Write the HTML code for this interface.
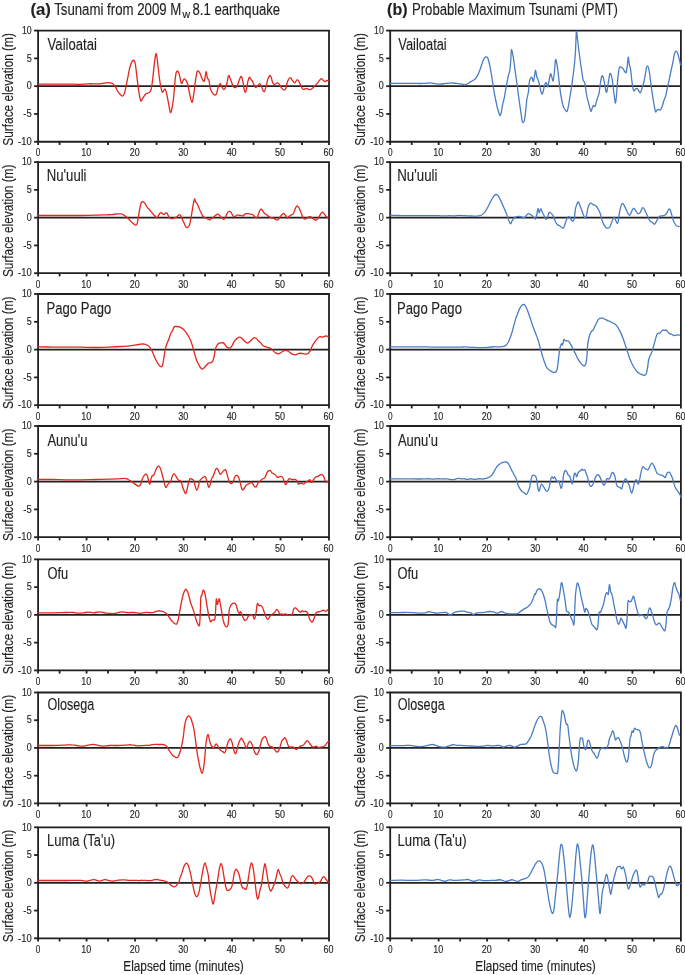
<!DOCTYPE html><html><head><meta charset="utf-8"><style>html,body{margin:0;padding:0;background:#fff;}svg{display:block;} text{filter:grayscale(1);}text{font-family:"Liberation Sans",sans-serif;fill:#231f20;stroke:#231f20;stroke-width:0.15px;}</style></head><body>
<svg width="685" height="975" viewBox="0 0 685 975">
<rect width="685" height="975" fill="#fff"/>
<text x="30.4" y="14.7" font-size="16.8" font-weight="bold" textLength="20.5" lengthAdjust="spacingAndGlyphs">(a)</text>
<text x="54.2" y="14.7" font-size="16.8" textLength="127.1" lengthAdjust="spacingAndGlyphs">Tsunami from 2009 M</text>
<text x="182.4" y="18.4" font-size="10.5" textLength="7.6" lengthAdjust="spacingAndGlyphs">w</text>
<text x="192.5" y="14.7" font-size="16.8" textLength="87.6" lengthAdjust="spacingAndGlyphs">8.1 earthquake</text>
<text x="387.1" y="14.7" font-size="16.8" font-weight="bold" textLength="20.5" lengthAdjust="spacingAndGlyphs">(b)</text>
<text x="411.9" y="14.7" font-size="16.8" textLength="206.1" lengthAdjust="spacingAndGlyphs">Probable Maximum Tsunami (PMT)</text>
<path d="M38.10 30.60 H329.00 V141.75 H38.10 Z" fill="none" stroke="#231f20" stroke-width="1.8"/>
<path d="M34.10 30.60 H38.10" stroke="#231f20" stroke-width="1.8"/>
<text x="31.70" y="33.80" font-size="10.5" text-anchor="end" textLength="9.8" lengthAdjust="spacingAndGlyphs">10</text>
<path d="M34.10 58.39 H38.10" stroke="#231f20" stroke-width="1.8"/>
<text x="31.70" y="61.59" font-size="10.5" text-anchor="end" textLength="5.0" lengthAdjust="spacingAndGlyphs">5</text>
<path d="M34.10 86.17 H38.10" stroke="#231f20" stroke-width="1.8"/>
<text x="31.70" y="89.38" font-size="10.5" text-anchor="end" textLength="5.0" lengthAdjust="spacingAndGlyphs">0</text>
<path d="M34.10 113.96 H38.10" stroke="#231f20" stroke-width="1.8"/>
<text x="31.70" y="117.16" font-size="10.5" text-anchor="end" textLength="8.4" lengthAdjust="spacingAndGlyphs">-5</text>
<path d="M34.10 141.75 H38.10" stroke="#231f20" stroke-width="1.8"/>
<text x="31.70" y="144.95" font-size="10.5" text-anchor="end" textLength="13.6" lengthAdjust="spacingAndGlyphs">-10</text>
<path d="M38.10 86.17 H329.00" stroke="#231f20" stroke-width="1.8"/>
<path d="M38.10 141.75 V144.95" stroke="#231f20" stroke-width="1.8"/>
<text x="38.10" y="156.15" font-size="10.5" text-anchor="middle" textLength="4.6" lengthAdjust="spacingAndGlyphs">0</text>
<path d="M59.60 141.75 V144.95" stroke="#231f20" stroke-width="1.8"/>
<path d="M86.58 141.75 V144.95" stroke="#231f20" stroke-width="1.8"/>
<text x="86.18" y="156.15" font-size="10.5" text-anchor="middle" textLength="10.0" lengthAdjust="spacingAndGlyphs">10</text>
<path d="M108.08 141.75 V144.95" stroke="#231f20" stroke-width="1.8"/>
<path d="M135.07 141.75 V144.95" stroke="#231f20" stroke-width="1.8"/>
<text x="134.67" y="156.15" font-size="10.5" text-anchor="middle" textLength="10.0" lengthAdjust="spacingAndGlyphs">20</text>
<path d="M156.57 141.75 V144.95" stroke="#231f20" stroke-width="1.8"/>
<path d="M183.55 141.75 V144.95" stroke="#231f20" stroke-width="1.8"/>
<text x="183.15" y="156.15" font-size="10.5" text-anchor="middle" textLength="10.0" lengthAdjust="spacingAndGlyphs">30</text>
<path d="M205.05 141.75 V144.95" stroke="#231f20" stroke-width="1.8"/>
<path d="M232.03 141.75 V144.95" stroke="#231f20" stroke-width="1.8"/>
<text x="231.63" y="156.15" font-size="10.5" text-anchor="middle" textLength="10.0" lengthAdjust="spacingAndGlyphs">40</text>
<path d="M253.53 141.75 V144.95" stroke="#231f20" stroke-width="1.8"/>
<path d="M280.52 141.75 V144.95" stroke="#231f20" stroke-width="1.8"/>
<text x="280.12" y="156.15" font-size="10.5" text-anchor="middle" textLength="10.0" lengthAdjust="spacingAndGlyphs">50</text>
<path d="M302.02 141.75 V144.95" stroke="#231f20" stroke-width="1.8"/>
<path d="M329.00 141.75 V144.95" stroke="#231f20" stroke-width="1.8"/>
<text x="328.60" y="156.15" font-size="10.5" text-anchor="middle" textLength="10.0" lengthAdjust="spacingAndGlyphs">60</text>
<text transform="translate(12.50 89.38) rotate(-90)" x="0" y="0" font-size="14.5" text-anchor="middle" textLength="112.5" lengthAdjust="spacingAndGlyphs">Surface elevation (m)</text>
<text x="47.60" y="49.50" font-size="16.8" textLength="49.25" lengthAdjust="spacingAndGlyphs">Vailoatai</text>
<path d="M38.29 84.07 C40.62 84.07 47.59 84.07 52.31 84.07 C57.03 84.07 62.32 84.02 66.61 84.07 C70.91 84.12 74.48 84.40 78.06 84.36 C81.64 84.31 84.50 83.88 88.07 83.78 C91.65 83.69 96.66 83.93 99.52 83.78 C102.38 83.64 103.81 83.12 105.24 82.92 C106.67 82.73 107.03 82.59 108.10 82.64 C109.18 82.69 110.73 82.88 111.68 83.21 C112.63 83.54 113.11 83.85 113.82 84.64 C114.54 85.43 115.14 86.55 115.97 87.93 C116.81 89.31 117.76 91.58 118.83 92.94 C119.91 94.30 121.45 96.08 122.41 96.08 C123.36 96.08 123.96 94.53 124.55 92.94 C125.15 91.34 125.39 89.36 125.99 86.50 C126.58 83.64 127.42 79.23 128.13 75.77 C128.85 72.32 129.44 68.33 130.28 65.76 C131.11 63.19 132.31 60.67 133.14 60.32 C133.96 59.98 134.62 61.15 135.22 63.69 C135.83 66.24 136.21 71.23 136.77 75.59 C137.32 79.95 137.90 85.66 138.55 89.87 C139.21 94.07 140.00 99.42 140.69 100.81 C141.39 102.20 141.88 99.33 142.72 98.19 C143.55 97.06 144.70 94.92 145.69 94.03 C146.68 93.14 147.77 93.54 148.67 92.84 C149.56 92.15 150.35 92.35 151.05 89.87 C151.74 87.39 152.23 82.73 152.83 77.97 C153.42 73.21 154.06 65.38 154.61 61.31 C155.17 57.25 155.67 53.38 156.16 53.58 C156.66 53.78 157.05 58.44 157.59 62.50 C158.12 66.57 158.78 73.61 159.37 77.97 C159.97 82.33 160.66 86.30 161.16 88.68 C161.65 91.06 161.85 92.05 162.35 92.25 C162.84 92.44 163.64 90.36 164.13 89.87 C164.63 89.37 164.87 88.48 165.32 89.27 C165.78 90.06 166.27 91.95 166.87 94.63 C167.46 97.30 168.30 102.36 168.89 105.33 C169.49 108.31 169.94 111.88 170.44 112.47 C170.93 113.07 171.33 111.48 171.86 108.90 C172.40 106.32 173.09 101.96 173.65 97.01 C174.20 92.05 174.74 83.32 175.20 79.16 C175.65 74.99 175.91 73.31 176.39 72.02 C176.86 70.73 177.52 70.83 178.05 71.43 C178.59 72.02 179.04 73.61 179.60 75.59 C180.15 77.57 180.79 82.53 181.38 83.32 C181.98 84.12 182.66 81.08 183.17 80.35 C183.67 79.62 183.96 78.92 184.43 78.92 C184.90 78.92 185.42 79.42 185.97 80.35 C186.53 81.28 187.16 82.33 187.76 84.51 C188.35 86.69 188.85 90.46 189.54 93.44 C190.24 96.41 191.23 102.16 191.92 102.36 C192.62 102.56 193.11 98.29 193.71 94.63 C194.30 90.96 194.94 84.12 195.49 80.35 C196.05 76.58 196.54 73.57 197.04 72.02 C197.53 70.47 197.93 70.77 198.47 71.07 C199.00 71.37 199.66 72.56 200.25 73.81 C200.85 75.05 201.38 77.31 202.04 78.56 C202.69 79.81 203.62 81.80 204.18 81.30 C204.73 80.80 205.03 77.18 205.37 75.59 C205.70 74.00 205.86 71.39 206.20 71.78 C206.54 72.18 206.93 76.54 207.39 77.97 C207.85 79.40 208.44 78.56 208.94 80.35 C209.43 82.13 209.73 86.50 210.36 88.68 C211.00 90.86 211.99 92.35 212.74 93.44 C213.50 94.53 214.25 95.22 214.88 95.22 C215.52 95.22 216.01 94.72 216.55 93.44 C217.09 92.15 217.50 89.11 218.10 87.49 C218.69 85.86 219.52 83.88 220.12 83.68 C220.71 83.48 221.11 85.37 221.67 86.30 C222.22 87.23 222.86 88.97 223.45 89.27 C224.05 89.57 224.64 89.17 225.23 88.08 C225.83 86.99 226.46 84.81 227.02 82.73 C227.57 80.65 228.07 76.38 228.57 75.59 C229.06 74.80 229.46 76.78 229.99 77.97 C230.53 79.16 231.18 81.24 231.78 82.73 C232.37 84.22 232.97 86.10 233.56 86.89 C234.16 87.69 234.75 87.59 235.35 87.49 C235.94 87.39 236.58 87.29 237.13 86.30 C237.69 85.31 238.18 82.93 238.68 81.54 C239.17 80.15 239.63 78.80 240.11 77.97 C240.58 77.14 241.04 75.75 241.53 76.54 C242.03 77.33 242.62 80.51 243.08 82.73 C243.54 84.95 243.87 88.28 244.27 89.87 C244.67 91.45 245.06 92.44 245.46 92.25 C245.86 92.05 246.25 90.46 246.65 88.68 C247.05 86.89 247.38 83.42 247.84 81.54 C248.30 79.65 248.89 77.77 249.39 77.37 C249.88 76.98 250.28 78.46 250.81 79.16 C251.35 79.85 252.00 80.45 252.60 81.54 C253.19 82.63 253.85 84.71 254.38 85.70 C254.92 86.69 255.24 87.49 255.81 87.49 C256.38 87.49 257.12 86.34 257.78 85.70 C258.45 85.07 259.21 83.58 259.81 83.68 C260.40 83.78 260.84 85.17 261.35 86.30 C261.87 87.43 262.36 89.63 262.90 90.46 C263.44 91.29 264.03 91.99 264.57 91.29 C265.10 90.60 265.56 88.32 266.11 86.30 C266.67 84.27 267.30 80.94 267.90 79.16 C268.49 77.37 269.13 75.89 269.68 75.59 C270.24 75.29 270.73 76.18 271.23 77.37 C271.72 78.56 272.12 81.54 272.66 82.73 C273.19 83.92 273.85 84.41 274.44 84.51 C275.04 84.61 275.63 83.58 276.23 83.32 C276.82 83.07 277.41 82.67 278.01 82.97 C278.60 83.26 279.20 84.26 279.79 85.11 C280.39 85.96 280.88 87.25 281.58 88.08 C282.27 88.91 283.26 90.01 283.96 90.10 C284.65 90.20 285.21 89.91 285.74 88.68 C286.28 87.45 286.67 84.31 287.17 82.73 C287.67 81.14 288.16 79.99 288.72 79.16 C289.27 78.33 289.91 77.53 290.50 77.73 C291.10 77.93 291.59 79.48 292.29 80.35 C292.98 81.22 293.87 83.07 294.67 82.97 C295.46 82.87 296.35 79.99 297.05 79.75 C297.74 79.52 298.23 80.65 298.83 81.54 C299.42 82.43 299.98 83.88 300.61 85.11 C301.25 86.34 302.04 88.22 302.64 88.91 C303.23 89.61 303.53 89.35 304.18 89.27 C304.84 89.19 305.87 88.44 306.56 88.44 C307.26 88.44 307.75 89.07 308.35 89.27 C308.94 89.47 309.54 89.73 310.13 89.63 C310.73 89.53 311.22 89.19 311.92 88.68 C312.61 88.16 313.50 87.33 314.30 86.54 C315.09 85.74 315.88 84.85 316.68 83.92 C317.47 82.99 318.30 81.84 319.05 80.94 C319.81 80.05 320.50 78.66 321.20 78.56 C321.89 78.46 322.58 79.85 323.22 80.35 C323.85 80.84 324.35 81.54 325.00 81.54 C325.66 81.54 326.59 80.45 327.14 80.35 C327.70 80.25 328.14 80.84 328.33 80.94" fill="none" stroke="#e3261f" stroke-width="1.3" stroke-linejoin="round" stroke-linecap="round"/>
<path d="M38.10 162.10 H329.00 V273.20 H38.10 Z" fill="none" stroke="#231f20" stroke-width="1.8"/>
<path d="M34.10 162.10 H38.10" stroke="#231f20" stroke-width="1.8"/>
<text x="31.70" y="165.30" font-size="10.5" text-anchor="end" textLength="9.8" lengthAdjust="spacingAndGlyphs">10</text>
<path d="M34.10 189.87 H38.10" stroke="#231f20" stroke-width="1.8"/>
<text x="31.70" y="193.07" font-size="10.5" text-anchor="end" textLength="5.0" lengthAdjust="spacingAndGlyphs">5</text>
<path d="M34.10 217.65 H38.10" stroke="#231f20" stroke-width="1.8"/>
<text x="31.70" y="220.85" font-size="10.5" text-anchor="end" textLength="5.0" lengthAdjust="spacingAndGlyphs">0</text>
<path d="M34.10 245.42 H38.10" stroke="#231f20" stroke-width="1.8"/>
<text x="31.70" y="248.62" font-size="10.5" text-anchor="end" textLength="8.4" lengthAdjust="spacingAndGlyphs">-5</text>
<path d="M34.10 273.20 H38.10" stroke="#231f20" stroke-width="1.8"/>
<text x="31.70" y="276.40" font-size="10.5" text-anchor="end" textLength="13.6" lengthAdjust="spacingAndGlyphs">-10</text>
<path d="M38.10 217.65 H329.00" stroke="#231f20" stroke-width="1.8"/>
<path d="M38.10 273.20 V276.40" stroke="#231f20" stroke-width="1.8"/>
<text x="38.10" y="287.60" font-size="10.5" text-anchor="middle" textLength="4.6" lengthAdjust="spacingAndGlyphs">0</text>
<path d="M59.60 273.20 V276.40" stroke="#231f20" stroke-width="1.8"/>
<path d="M86.58 273.20 V276.40" stroke="#231f20" stroke-width="1.8"/>
<text x="86.18" y="287.60" font-size="10.5" text-anchor="middle" textLength="10.0" lengthAdjust="spacingAndGlyphs">10</text>
<path d="M108.08 273.20 V276.40" stroke="#231f20" stroke-width="1.8"/>
<path d="M135.07 273.20 V276.40" stroke="#231f20" stroke-width="1.8"/>
<text x="134.67" y="287.60" font-size="10.5" text-anchor="middle" textLength="10.0" lengthAdjust="spacingAndGlyphs">20</text>
<path d="M156.57 273.20 V276.40" stroke="#231f20" stroke-width="1.8"/>
<path d="M183.55 273.20 V276.40" stroke="#231f20" stroke-width="1.8"/>
<text x="183.15" y="287.60" font-size="10.5" text-anchor="middle" textLength="10.0" lengthAdjust="spacingAndGlyphs">30</text>
<path d="M205.05 273.20 V276.40" stroke="#231f20" stroke-width="1.8"/>
<path d="M232.03 273.20 V276.40" stroke="#231f20" stroke-width="1.8"/>
<text x="231.63" y="287.60" font-size="10.5" text-anchor="middle" textLength="10.0" lengthAdjust="spacingAndGlyphs">40</text>
<path d="M253.53 273.20 V276.40" stroke="#231f20" stroke-width="1.8"/>
<path d="M280.52 273.20 V276.40" stroke="#231f20" stroke-width="1.8"/>
<text x="280.12" y="287.60" font-size="10.5" text-anchor="middle" textLength="10.0" lengthAdjust="spacingAndGlyphs">50</text>
<path d="M302.02 273.20 V276.40" stroke="#231f20" stroke-width="1.8"/>
<path d="M329.00 273.20 V276.40" stroke="#231f20" stroke-width="1.8"/>
<text x="328.60" y="287.60" font-size="10.5" text-anchor="middle" textLength="10.0" lengthAdjust="spacingAndGlyphs">60</text>
<text transform="translate(12.50 220.85) rotate(-90)" x="0" y="0" font-size="14.5" text-anchor="middle" textLength="112.5" lengthAdjust="spacingAndGlyphs">Surface elevation (m)</text>
<text x="46.80" y="181.00" font-size="16.8" textLength="39.71" lengthAdjust="spacingAndGlyphs">Nu&#39;uuli</text>
<path d="M38.29 215.50 C40.62 215.50 47.59 215.50 52.31 215.50 C57.03 215.50 61.84 215.50 66.61 215.50 C71.38 215.50 76.15 215.54 80.92 215.50 C85.69 215.45 90.93 215.33 95.23 215.21 C99.52 215.09 103.81 214.88 106.67 214.78 C109.53 214.69 110.61 214.78 112.39 214.64 C114.18 214.50 115.97 214.04 117.40 213.92 C118.83 213.80 119.91 213.73 120.98 213.92 C122.05 214.11 122.89 214.54 123.84 215.07 C124.79 215.60 125.69 216.27 126.66 217.11 C127.62 217.94 128.64 219.09 129.63 220.08 C130.62 221.07 131.61 222.20 132.60 223.06 C133.60 223.91 134.83 225.10 135.58 225.20 C136.33 225.30 136.63 225.20 137.13 223.65 C137.62 222.10 138.08 218.59 138.55 215.92 C139.03 213.24 139.48 209.87 139.98 207.59 C140.48 205.31 140.87 203.13 141.53 202.24 C142.18 201.34 143.21 201.84 143.91 202.24 C144.60 202.63 145.10 203.72 145.69 204.62 C146.29 205.51 146.88 206.80 147.48 207.59 C148.07 208.38 148.57 208.58 149.26 209.37 C149.95 210.17 150.85 211.42 151.64 212.35 C152.43 213.28 153.33 214.21 154.02 214.97 C154.71 215.72 155.31 216.35 155.80 216.87 C156.30 217.39 156.60 218.22 156.99 218.06 C157.39 217.90 157.69 216.71 158.18 215.92 C158.68 215.12 159.43 213.86 159.97 213.30 C160.50 212.75 160.90 212.45 161.40 212.59 C161.89 212.73 162.43 213.88 162.94 214.13 C163.46 214.39 163.99 214.33 164.49 214.13 C164.98 213.94 165.44 213.04 165.92 212.94 C166.39 212.84 166.85 212.84 167.34 213.54 C167.84 214.23 168.34 216.27 168.89 217.11 C169.45 217.94 169.98 218.30 170.68 218.54 C171.37 218.77 172.36 218.67 173.05 218.54 C173.75 218.40 174.24 217.94 174.84 217.70 C175.43 217.46 176.03 217.50 176.62 217.11 C177.22 216.71 177.87 215.72 178.41 215.32 C178.94 214.93 179.34 214.43 179.84 214.73 C180.33 215.03 180.89 216.12 181.38 217.11 C181.88 218.10 182.44 219.88 182.81 220.68 C183.18 221.47 183.17 220.97 183.59 221.87 C184.02 222.76 184.73 225.08 185.38 226.03 C186.03 226.98 186.83 227.78 187.52 227.58 C188.21 227.38 188.91 226.78 189.54 224.84 C190.18 222.90 190.73 219.19 191.33 215.92 C191.92 212.65 192.58 208.03 193.11 205.21 C193.65 202.39 194.14 199.62 194.54 199.02 C194.94 198.43 195.04 200.81 195.49 201.64 C195.95 202.47 196.68 202.93 197.28 204.02 C197.87 205.11 198.47 206.80 199.06 208.18 C199.66 209.57 200.25 211.06 200.85 212.35 C201.44 213.64 202.04 215.09 202.63 215.92 C203.23 216.75 203.72 216.91 204.41 217.35 C205.11 217.78 206.00 218.14 206.79 218.54 C207.59 218.93 208.38 219.73 209.17 219.73 C209.97 219.73 210.76 219.01 211.55 218.54 C212.35 218.06 213.24 217.41 213.93 216.87 C214.63 216.33 215.12 215.78 215.72 215.32 C216.31 214.87 216.91 214.19 217.50 214.13 C218.10 214.07 218.69 214.47 219.29 214.97 C219.88 215.46 220.38 216.39 221.07 217.11 C221.76 217.82 222.76 219.15 223.45 219.25 C224.14 219.35 224.64 218.65 225.23 217.70 C225.83 216.75 226.42 214.57 227.02 213.54 C227.61 212.51 228.21 211.81 228.80 211.52 C229.40 211.22 229.99 211.22 230.59 211.75 C231.18 212.29 231.78 213.88 232.37 214.73 C232.97 215.58 233.56 216.67 234.16 216.87 C234.75 217.07 235.35 216.24 235.94 215.92 C236.54 215.60 237.13 215.07 237.73 214.97 C238.32 214.87 238.92 215.22 239.51 215.32 C240.11 215.42 240.70 215.46 241.30 215.56 C241.89 215.66 242.49 216.16 243.08 215.92 C243.68 215.68 244.27 214.53 244.86 214.13 C245.46 213.74 245.96 213.60 246.65 213.54 C247.34 213.48 248.24 213.66 249.03 213.78 C249.82 213.90 250.71 214.05 251.41 214.25 C252.10 214.45 252.60 214.53 253.19 214.97 C253.79 215.40 254.35 216.41 254.98 216.87 C255.60 217.33 256.38 218.16 256.95 217.70 C257.52 217.25 257.90 215.32 258.38 214.13 C258.86 212.94 259.31 211.42 259.81 210.56 C260.30 209.71 260.84 208.92 261.35 209.02 C261.87 209.12 262.40 210.45 262.90 211.16 C263.40 211.87 263.79 212.75 264.33 213.30 C264.86 213.86 265.52 214.05 266.11 214.49 C266.71 214.93 267.20 215.44 267.90 215.92 C268.59 216.39 269.38 216.99 270.28 217.35 C271.17 217.70 272.46 217.76 273.25 218.06 C274.04 218.36 274.38 218.79 275.04 219.13 C275.69 219.47 276.54 220.12 277.18 220.08 C277.81 220.04 278.31 219.49 278.84 218.89 C279.38 218.30 279.83 217.25 280.39 216.51 C280.94 215.78 281.58 214.99 282.17 214.49 C282.77 213.99 283.36 213.34 283.96 213.54 C284.55 213.74 285.21 214.93 285.74 215.68 C286.28 216.43 286.67 217.86 287.17 218.06 C287.67 218.26 288.16 217.33 288.72 216.87 C289.27 216.41 289.81 215.78 290.50 215.32 C291.20 214.87 292.25 214.83 292.88 214.13 C293.52 213.44 293.81 212.29 294.31 211.16 C294.80 210.03 295.40 208.24 295.86 207.35 C296.31 206.46 296.55 205.77 297.05 205.81 C297.54 205.84 298.29 206.80 298.83 207.59 C299.36 208.38 299.76 209.37 300.26 210.56 C300.75 211.75 301.29 213.48 301.80 214.73 C302.32 215.98 302.82 217.33 303.35 218.06 C303.89 218.79 304.42 219.13 305.02 219.13 C305.61 219.13 306.27 218.44 306.92 218.06 C307.57 217.68 308.31 217.07 308.94 216.87 C309.58 216.67 310.13 216.67 310.73 216.87 C311.32 217.07 311.92 217.62 312.51 218.06 C313.11 218.50 313.70 219.15 314.30 219.49 C314.89 219.82 315.49 220.24 316.08 220.08 C316.68 219.92 317.27 219.27 317.86 218.54 C318.46 217.80 319.05 216.61 319.65 215.68 C320.24 214.75 320.90 213.54 321.43 212.94 C321.97 212.35 322.37 211.91 322.86 212.11 C323.36 212.31 323.85 213.40 324.41 214.13 C324.96 214.87 325.54 215.92 326.19 216.51 C326.85 217.11 327.98 217.50 328.33 217.70" fill="none" stroke="#e3261f" stroke-width="1.3" stroke-linejoin="round" stroke-linecap="round"/>
<path d="M38.10 294.00 H329.00 V405.20 H38.10 Z" fill="none" stroke="#231f20" stroke-width="1.8"/>
<path d="M34.10 294.00 H38.10" stroke="#231f20" stroke-width="1.8"/>
<text x="31.70" y="297.20" font-size="10.5" text-anchor="end" textLength="9.8" lengthAdjust="spacingAndGlyphs">10</text>
<path d="M34.10 321.80 H38.10" stroke="#231f20" stroke-width="1.8"/>
<text x="31.70" y="325.00" font-size="10.5" text-anchor="end" textLength="5.0" lengthAdjust="spacingAndGlyphs">5</text>
<path d="M34.10 349.60 H38.10" stroke="#231f20" stroke-width="1.8"/>
<text x="31.70" y="352.80" font-size="10.5" text-anchor="end" textLength="5.0" lengthAdjust="spacingAndGlyphs">0</text>
<path d="M34.10 377.40 H38.10" stroke="#231f20" stroke-width="1.8"/>
<text x="31.70" y="380.60" font-size="10.5" text-anchor="end" textLength="8.4" lengthAdjust="spacingAndGlyphs">-5</text>
<path d="M34.10 405.20 H38.10" stroke="#231f20" stroke-width="1.8"/>
<text x="31.70" y="408.40" font-size="10.5" text-anchor="end" textLength="13.6" lengthAdjust="spacingAndGlyphs">-10</text>
<path d="M38.10 349.60 H329.00" stroke="#231f20" stroke-width="1.8"/>
<path d="M38.10 405.20 V408.40" stroke="#231f20" stroke-width="1.8"/>
<text x="38.10" y="419.60" font-size="10.5" text-anchor="middle" textLength="4.6" lengthAdjust="spacingAndGlyphs">0</text>
<path d="M59.60 405.20 V408.40" stroke="#231f20" stroke-width="1.8"/>
<path d="M86.58 405.20 V408.40" stroke="#231f20" stroke-width="1.8"/>
<text x="86.18" y="419.60" font-size="10.5" text-anchor="middle" textLength="10.0" lengthAdjust="spacingAndGlyphs">10</text>
<path d="M108.08 405.20 V408.40" stroke="#231f20" stroke-width="1.8"/>
<path d="M135.07 405.20 V408.40" stroke="#231f20" stroke-width="1.8"/>
<text x="134.67" y="419.60" font-size="10.5" text-anchor="middle" textLength="10.0" lengthAdjust="spacingAndGlyphs">20</text>
<path d="M156.57 405.20 V408.40" stroke="#231f20" stroke-width="1.8"/>
<path d="M183.55 405.20 V408.40" stroke="#231f20" stroke-width="1.8"/>
<text x="183.15" y="419.60" font-size="10.5" text-anchor="middle" textLength="10.0" lengthAdjust="spacingAndGlyphs">30</text>
<path d="M205.05 405.20 V408.40" stroke="#231f20" stroke-width="1.8"/>
<path d="M232.03 405.20 V408.40" stroke="#231f20" stroke-width="1.8"/>
<text x="231.63" y="419.60" font-size="10.5" text-anchor="middle" textLength="10.0" lengthAdjust="spacingAndGlyphs">40</text>
<path d="M253.53 405.20 V408.40" stroke="#231f20" stroke-width="1.8"/>
<path d="M280.52 405.20 V408.40" stroke="#231f20" stroke-width="1.8"/>
<text x="280.12" y="419.60" font-size="10.5" text-anchor="middle" textLength="10.0" lengthAdjust="spacingAndGlyphs">50</text>
<path d="M302.02 405.20 V408.40" stroke="#231f20" stroke-width="1.8"/>
<path d="M329.00 405.20 V408.40" stroke="#231f20" stroke-width="1.8"/>
<text x="328.60" y="419.60" font-size="10.5" text-anchor="middle" textLength="10.0" lengthAdjust="spacingAndGlyphs">60</text>
<text transform="translate(12.50 352.80) rotate(-90)" x="0" y="0" font-size="14.5" text-anchor="middle" textLength="112.5" lengthAdjust="spacingAndGlyphs">Surface elevation (m)</text>
<text x="46.60" y="313.50" font-size="16.8" textLength="64.63" lengthAdjust="spacingAndGlyphs">Pago Pago</text>
<path d="M38.29 346.78 C40.62 346.83 47.59 347.00 52.31 347.07 C57.03 347.14 61.84 347.19 66.61 347.21 C71.38 347.23 76.15 347.16 80.92 347.21 C85.69 347.26 90.46 347.52 95.23 347.50 C100.00 347.47 105.24 347.23 109.53 347.07 C113.82 346.90 117.64 346.71 120.98 346.50 C124.32 346.28 127.03 346.04 129.56 345.78 C132.09 345.52 134.38 345.22 136.17 344.94 C137.97 344.67 138.95 344.25 140.34 344.11 C141.73 343.97 143.31 343.91 144.50 344.11 C145.69 344.31 146.58 344.77 147.48 345.30 C148.37 345.84 149.16 346.49 149.86 347.32 C150.55 348.16 150.95 348.91 151.64 350.30 C152.33 351.69 153.23 353.87 154.02 355.65 C154.81 357.44 155.61 359.48 156.40 361.01 C157.19 362.53 158.02 363.86 158.78 364.81 C159.53 365.76 160.32 366.56 160.92 366.72 C161.51 366.87 161.87 367.11 162.35 365.76 C162.82 364.42 163.28 361.40 163.77 358.63 C164.27 355.85 164.77 351.69 165.32 349.11 C165.88 346.53 166.51 344.84 167.11 343.16 C167.70 341.47 168.30 340.58 168.89 338.99 C169.49 337.41 170.08 335.03 170.68 333.64 C171.27 332.25 171.86 331.82 172.46 330.67 C173.05 329.52 173.65 327.43 174.24 326.74 C174.84 326.05 175.33 326.50 176.03 326.50 C176.72 326.50 177.52 326.50 178.41 326.74 C179.30 326.98 180.52 327.47 181.38 327.93 C182.25 328.39 182.83 328.72 183.59 329.48 C184.36 330.23 185.18 331.36 185.97 332.45 C186.77 333.54 187.56 334.63 188.35 336.02 C189.15 337.41 190.04 339.09 190.73 340.78 C191.43 342.46 191.92 344.15 192.52 346.13 C193.11 348.12 193.61 350.30 194.30 352.68 C195.00 355.06 195.89 358.33 196.68 360.41 C197.47 362.49 198.37 363.88 199.06 365.17 C199.76 366.46 200.25 367.49 200.85 368.14 C201.44 368.80 202.04 369.19 202.63 369.10 C203.23 369.00 203.72 368.26 204.41 367.55 C205.11 366.83 206.04 365.61 206.79 364.81 C207.55 364.02 208.24 363.13 208.94 362.79 C209.63 362.45 210.32 363.09 210.96 362.79 C211.59 362.49 212.21 362.10 212.74 361.01 C213.28 359.91 213.73 358.23 214.17 356.25 C214.61 354.26 214.90 350.89 215.36 349.11 C215.82 347.32 216.35 346.49 216.91 345.54 C217.46 344.59 218.00 343.83 218.69 343.40 C219.39 342.96 220.28 343.00 221.07 342.92 C221.86 342.84 222.76 342.58 223.45 342.92 C224.14 343.26 224.64 344.21 225.23 344.94 C225.83 345.68 226.42 346.83 227.02 347.32 C227.61 347.82 228.21 347.86 228.80 347.92 C229.40 347.98 230.05 348.04 230.59 347.68 C231.12 347.32 231.52 346.63 232.02 345.78 C232.51 344.92 233.01 343.50 233.56 342.56 C234.12 341.63 234.75 340.88 235.35 340.18 C235.94 339.49 236.44 338.90 237.13 338.40 C237.83 337.90 238.72 337.21 239.51 337.21 C240.30 337.21 241.20 337.90 241.89 338.40 C242.58 338.90 243.08 339.59 243.68 340.18 C244.27 340.78 244.83 341.47 245.46 341.97 C246.09 342.46 246.79 343.20 247.48 343.16 C248.18 343.12 248.91 342.33 249.62 341.73 C250.34 341.14 251.07 340.24 251.77 339.59 C252.46 338.94 253.15 338.04 253.79 337.81 C254.42 337.57 255.10 338.02 255.57 338.16 C256.04 338.30 256.13 338.20 256.59 338.64 C257.06 339.07 257.69 340.07 258.38 340.78 C259.07 341.49 259.97 342.09 260.76 342.92 C261.55 343.75 262.35 345.14 263.14 345.78 C263.93 346.41 264.72 346.45 265.52 346.73 C266.31 347.01 267.00 347.14 267.90 347.44 C268.79 347.74 269.98 347.94 270.87 348.51 C271.76 349.09 272.46 350.16 273.25 350.89 C274.04 351.63 274.74 352.42 275.63 352.91 C276.52 353.41 277.71 353.91 278.60 353.87 C279.50 353.83 280.19 353.17 280.98 352.68 C281.78 352.18 282.53 351.29 283.36 350.89 C284.20 350.50 285.19 350.24 285.98 350.30 C286.77 350.36 287.37 350.81 288.12 351.25 C288.88 351.69 289.71 352.38 290.50 352.91 C291.29 353.45 292.09 354.14 292.88 354.46 C293.67 354.78 294.47 354.92 295.26 354.82 C296.05 354.72 296.85 354.12 297.64 353.87 C298.43 353.61 299.13 353.31 300.02 353.27 C300.91 353.23 302.00 353.49 302.99 353.63 C303.98 353.77 305.08 354.16 305.97 354.10 C306.86 354.05 307.65 353.81 308.35 353.27 C309.04 352.74 309.58 351.88 310.13 350.89 C310.69 349.90 311.18 348.41 311.68 347.32 C312.17 346.23 312.57 345.28 313.11 344.35 C313.64 343.42 314.30 342.56 314.89 341.73 C315.49 340.90 316.08 340.07 316.68 339.35 C317.27 338.64 317.86 337.90 318.46 337.45 C319.05 336.99 319.65 336.66 320.24 336.62 C320.84 336.58 321.43 337.21 322.03 337.21 C322.62 337.21 323.22 336.81 323.81 336.62 C324.41 336.42 325.00 336.08 325.60 336.02 C326.19 335.96 326.93 336.16 327.38 336.26 C327.84 336.36 328.18 336.56 328.33 336.62" fill="none" stroke="#e3261f" stroke-width="1.3" stroke-linejoin="round" stroke-linecap="round"/>
<path d="M38.10 426.00 H329.00 V537.20 H38.10 Z" fill="none" stroke="#231f20" stroke-width="1.8"/>
<path d="M34.10 426.00 H38.10" stroke="#231f20" stroke-width="1.8"/>
<text x="31.70" y="429.20" font-size="10.5" text-anchor="end" textLength="9.8" lengthAdjust="spacingAndGlyphs">10</text>
<path d="M34.10 453.80 H38.10" stroke="#231f20" stroke-width="1.8"/>
<text x="31.70" y="457.00" font-size="10.5" text-anchor="end" textLength="5.0" lengthAdjust="spacingAndGlyphs">5</text>
<path d="M34.10 481.60 H38.10" stroke="#231f20" stroke-width="1.8"/>
<text x="31.70" y="484.80" font-size="10.5" text-anchor="end" textLength="5.0" lengthAdjust="spacingAndGlyphs">0</text>
<path d="M34.10 509.40 H38.10" stroke="#231f20" stroke-width="1.8"/>
<text x="31.70" y="512.60" font-size="10.5" text-anchor="end" textLength="8.4" lengthAdjust="spacingAndGlyphs">-5</text>
<path d="M34.10 537.20 H38.10" stroke="#231f20" stroke-width="1.8"/>
<text x="31.70" y="540.40" font-size="10.5" text-anchor="end" textLength="13.6" lengthAdjust="spacingAndGlyphs">-10</text>
<path d="M38.10 481.60 H329.00" stroke="#231f20" stroke-width="1.8"/>
<path d="M38.10 537.20 V540.40" stroke="#231f20" stroke-width="1.8"/>
<text x="38.10" y="551.60" font-size="10.5" text-anchor="middle" textLength="4.6" lengthAdjust="spacingAndGlyphs">0</text>
<path d="M59.60 537.20 V540.40" stroke="#231f20" stroke-width="1.8"/>
<path d="M86.58 537.20 V540.40" stroke="#231f20" stroke-width="1.8"/>
<text x="86.18" y="551.60" font-size="10.5" text-anchor="middle" textLength="10.0" lengthAdjust="spacingAndGlyphs">10</text>
<path d="M108.08 537.20 V540.40" stroke="#231f20" stroke-width="1.8"/>
<path d="M135.07 537.20 V540.40" stroke="#231f20" stroke-width="1.8"/>
<text x="134.67" y="551.60" font-size="10.5" text-anchor="middle" textLength="10.0" lengthAdjust="spacingAndGlyphs">20</text>
<path d="M156.57 537.20 V540.40" stroke="#231f20" stroke-width="1.8"/>
<path d="M183.55 537.20 V540.40" stroke="#231f20" stroke-width="1.8"/>
<text x="183.15" y="551.60" font-size="10.5" text-anchor="middle" textLength="10.0" lengthAdjust="spacingAndGlyphs">30</text>
<path d="M205.05 537.20 V540.40" stroke="#231f20" stroke-width="1.8"/>
<path d="M232.03 537.20 V540.40" stroke="#231f20" stroke-width="1.8"/>
<text x="231.63" y="551.60" font-size="10.5" text-anchor="middle" textLength="10.0" lengthAdjust="spacingAndGlyphs">40</text>
<path d="M253.53 537.20 V540.40" stroke="#231f20" stroke-width="1.8"/>
<path d="M280.52 537.20 V540.40" stroke="#231f20" stroke-width="1.8"/>
<text x="280.12" y="551.60" font-size="10.5" text-anchor="middle" textLength="10.0" lengthAdjust="spacingAndGlyphs">50</text>
<path d="M302.02 537.20 V540.40" stroke="#231f20" stroke-width="1.8"/>
<path d="M329.00 537.20 V540.40" stroke="#231f20" stroke-width="1.8"/>
<text x="328.60" y="551.60" font-size="10.5" text-anchor="middle" textLength="10.0" lengthAdjust="spacingAndGlyphs">60</text>
<text transform="translate(12.50 484.80) rotate(-90)" x="0" y="0" font-size="14.5" text-anchor="middle" textLength="112.5" lengthAdjust="spacingAndGlyphs">Surface elevation (m)</text>
<text x="47.40" y="445.50" font-size="16.8" textLength="40.19" lengthAdjust="spacingAndGlyphs">Aunu&#39;u</text>
<path d="M38.29 479.50 C40.62 479.50 47.59 479.45 52.31 479.50 C57.03 479.54 61.84 479.74 66.61 479.78 C71.38 479.83 76.15 479.83 80.92 479.78 C85.69 479.74 90.46 479.59 95.23 479.50 C100.00 479.40 105.72 479.33 109.53 479.21 C113.35 479.09 115.61 478.92 118.12 478.78 C120.62 478.64 123.00 478.30 124.55 478.35 C126.10 478.40 126.87 478.91 127.42 479.07 C127.96 479.23 127.28 478.98 127.85 479.32 C128.41 479.66 129.83 480.45 130.82 481.11 C131.81 481.76 132.90 482.61 133.79 483.25 C134.69 483.88 135.38 484.44 136.17 484.91 C136.97 485.39 137.80 486.24 138.55 486.10 C139.31 485.97 140.06 485.31 140.69 484.08 C141.33 482.85 141.77 480.18 142.36 478.73 C142.95 477.28 143.67 476.19 144.26 475.40 C144.86 474.60 145.39 473.81 145.93 473.97 C146.46 474.13 147.02 475.16 147.48 476.35 C147.93 477.54 148.27 479.82 148.67 481.11 C149.06 482.40 149.46 484.48 149.86 484.08 C150.25 483.69 150.65 480.12 151.05 478.73 C151.44 477.34 151.78 476.35 152.23 475.75 C152.69 475.16 153.29 475.85 153.78 475.16 C154.28 474.46 154.67 472.88 155.21 471.59 C155.74 470.30 156.44 468.38 156.99 467.43 C157.55 466.47 158.00 465.78 158.54 465.88 C159.08 465.98 159.67 466.87 160.21 468.02 C160.74 469.17 161.24 470.99 161.75 472.78 C162.27 474.56 162.80 476.75 163.30 478.73 C163.79 480.71 164.29 483.19 164.73 484.68 C165.16 486.16 165.48 487.55 165.92 487.65 C166.35 487.75 166.85 486.06 167.34 485.27 C167.84 484.48 168.34 483.49 168.89 482.89 C169.45 482.30 170.18 482.59 170.68 481.70 C171.17 480.81 171.47 478.73 171.86 477.54 C172.26 476.35 172.62 475.16 173.05 474.56 C173.49 473.97 173.99 473.67 174.48 473.97 C174.98 474.27 175.47 475.46 176.03 476.35 C176.58 477.24 177.22 478.63 177.81 479.32 C178.41 480.02 179.10 480.22 179.60 480.51 C180.09 480.81 180.39 480.41 180.79 481.11 C181.18 481.80 181.58 483.39 181.98 484.68 C182.37 485.97 182.90 488.05 183.17 488.84 C183.44 489.63 183.23 488.64 183.59 489.44 C183.96 490.23 184.84 493.40 185.38 493.60 C185.91 493.80 186.31 492.31 186.81 490.63 C187.30 488.94 187.84 485.47 188.35 483.49 C188.87 481.50 189.31 479.42 189.90 478.73 C190.50 478.03 191.29 479.03 191.92 479.32 C192.56 479.62 193.17 479.42 193.71 480.51 C194.24 481.60 194.64 484.28 195.14 485.87 C195.63 487.45 196.17 489.83 196.68 490.03 C197.20 490.23 197.73 488.54 198.23 487.06 C198.72 485.57 199.12 482.50 199.66 481.11 C200.19 479.72 200.85 479.36 201.44 478.73 C202.04 478.09 202.63 477.66 203.23 477.30 C203.82 476.94 204.41 476.05 205.01 476.59 C205.60 477.12 206.20 478.77 206.79 480.51 C207.39 482.26 208.02 486.36 208.58 487.06 C209.13 487.75 209.63 486.06 210.13 484.68 C210.62 483.29 211.02 480.22 211.55 478.73 C212.09 477.24 212.74 477.10 213.34 475.75 C213.93 474.41 214.59 471.89 215.12 470.64 C215.66 469.39 216.05 468.40 216.55 468.26 C217.05 468.12 217.54 468.85 218.10 469.81 C218.65 470.76 219.35 473.37 219.88 473.97 C220.42 474.56 220.81 473.81 221.31 473.37 C221.80 472.94 222.30 471.95 222.86 471.35 C223.41 470.76 224.10 469.92 224.64 469.81 C225.18 469.69 225.57 469.55 226.07 470.64 C226.56 471.73 227.06 474.41 227.61 476.35 C228.17 478.29 228.80 481.11 229.40 482.30 C229.99 483.49 230.59 483.49 231.18 483.49 C231.78 483.49 232.41 483.29 232.97 482.30 C233.52 481.31 233.96 478.69 234.51 477.54 C235.07 476.39 235.72 475.60 236.30 475.40 C236.87 475.20 237.43 475.60 237.96 476.35 C238.50 477.10 239.02 478.33 239.51 479.92 C240.01 481.50 240.44 484.18 240.94 485.87 C241.43 487.55 241.93 489.63 242.49 490.03 C243.04 490.43 243.68 489.04 244.27 488.25 C244.86 487.45 245.46 485.97 246.05 485.27 C246.65 484.58 247.24 484.38 247.84 484.08 C248.43 483.78 249.13 483.78 249.62 483.49 C250.12 483.19 250.32 482.30 250.81 482.30 C251.31 482.30 252.00 482.79 252.60 483.49 C253.19 484.18 253.85 485.87 254.38 486.46 C254.92 487.06 255.44 487.06 255.81 487.06 C256.18 487.06 256.21 487.16 256.59 486.46 C256.98 485.77 257.55 483.82 258.14 482.89 C258.74 481.96 259.43 481.52 260.16 480.87 C260.90 480.22 261.75 479.52 262.54 478.97 C263.34 478.41 264.27 478.37 264.92 477.54 C265.58 476.71 265.97 475.00 266.47 473.97 C266.97 472.94 267.26 471.91 267.90 471.35 C268.53 470.80 269.58 470.36 270.28 470.64 C270.97 470.92 271.47 472.50 272.06 473.02 C272.66 473.53 273.25 473.37 273.85 473.73 C274.44 474.09 275.04 474.56 275.63 475.16 C276.23 475.75 276.82 477.00 277.41 477.30 C278.01 477.60 278.60 477.10 279.20 476.94 C279.79 476.78 280.39 476.25 280.98 476.35 C281.58 476.45 282.21 476.65 282.77 477.54 C283.32 478.43 283.82 480.51 284.32 481.70 C284.81 482.89 285.27 484.58 285.74 484.68 C286.22 484.78 286.67 483.25 287.17 482.30 C287.67 481.35 288.16 479.52 288.72 478.97 C289.27 478.41 289.81 478.85 290.50 478.97 C291.20 479.09 292.09 479.62 292.88 479.68 C293.67 479.74 294.57 479.12 295.26 479.32 C295.95 479.52 296.55 480.08 297.05 480.87 C297.54 481.66 297.74 483.69 298.23 484.08 C298.73 484.48 299.42 483.35 300.02 483.25 C300.61 483.15 301.21 483.35 301.80 483.49 C302.40 483.63 303.05 484.24 303.59 484.08 C304.12 483.92 304.46 482.93 305.02 482.54 C305.57 482.14 306.36 481.98 306.92 481.70 C307.47 481.42 307.87 481.21 308.35 480.87 C308.82 480.53 309.34 479.54 309.77 479.68 C310.21 479.82 310.57 481.27 310.96 481.70 C311.36 482.14 311.70 482.69 312.15 482.30 C312.61 481.90 313.15 480.16 313.70 479.32 C314.26 478.49 314.79 477.80 315.49 477.30 C316.18 476.80 317.07 476.75 317.86 476.35 C318.66 475.95 319.55 475.22 320.24 474.92 C320.94 474.62 321.47 474.33 322.03 474.56 C322.58 474.80 323.08 475.46 323.58 476.35 C324.07 477.24 324.53 478.93 325.00 479.92 C325.48 480.91 325.94 482.10 326.43 482.30 C326.93 482.50 327.72 481.31 327.98 481.11" fill="none" stroke="#e3261f" stroke-width="1.3" stroke-linejoin="round" stroke-linecap="round"/>
<path d="M38.10 559.40 H329.00 V670.40 H38.10 Z" fill="none" stroke="#231f20" stroke-width="1.8"/>
<path d="M34.10 559.40 H38.10" stroke="#231f20" stroke-width="1.8"/>
<text x="31.70" y="562.60" font-size="10.5" text-anchor="end" textLength="9.8" lengthAdjust="spacingAndGlyphs">10</text>
<path d="M34.10 587.15 H38.10" stroke="#231f20" stroke-width="1.8"/>
<text x="31.70" y="590.35" font-size="10.5" text-anchor="end" textLength="5.0" lengthAdjust="spacingAndGlyphs">5</text>
<path d="M34.10 614.90 H38.10" stroke="#231f20" stroke-width="1.8"/>
<text x="31.70" y="618.10" font-size="10.5" text-anchor="end" textLength="5.0" lengthAdjust="spacingAndGlyphs">0</text>
<path d="M34.10 642.65 H38.10" stroke="#231f20" stroke-width="1.8"/>
<text x="31.70" y="645.85" font-size="10.5" text-anchor="end" textLength="8.4" lengthAdjust="spacingAndGlyphs">-5</text>
<path d="M34.10 670.40 H38.10" stroke="#231f20" stroke-width="1.8"/>
<text x="31.70" y="673.60" font-size="10.5" text-anchor="end" textLength="13.6" lengthAdjust="spacingAndGlyphs">-10</text>
<path d="M38.10 614.90 H329.00" stroke="#231f20" stroke-width="1.8"/>
<path d="M38.10 670.40 V673.60" stroke="#231f20" stroke-width="1.8"/>
<text x="38.10" y="684.80" font-size="10.5" text-anchor="middle" textLength="4.6" lengthAdjust="spacingAndGlyphs">0</text>
<path d="M59.60 670.40 V673.60" stroke="#231f20" stroke-width="1.8"/>
<path d="M86.58 670.40 V673.60" stroke="#231f20" stroke-width="1.8"/>
<text x="86.18" y="684.80" font-size="10.5" text-anchor="middle" textLength="10.0" lengthAdjust="spacingAndGlyphs">10</text>
<path d="M108.08 670.40 V673.60" stroke="#231f20" stroke-width="1.8"/>
<path d="M135.07 670.40 V673.60" stroke="#231f20" stroke-width="1.8"/>
<text x="134.67" y="684.80" font-size="10.5" text-anchor="middle" textLength="10.0" lengthAdjust="spacingAndGlyphs">20</text>
<path d="M156.57 670.40 V673.60" stroke="#231f20" stroke-width="1.8"/>
<path d="M183.55 670.40 V673.60" stroke="#231f20" stroke-width="1.8"/>
<text x="183.15" y="684.80" font-size="10.5" text-anchor="middle" textLength="10.0" lengthAdjust="spacingAndGlyphs">30</text>
<path d="M205.05 670.40 V673.60" stroke="#231f20" stroke-width="1.8"/>
<path d="M232.03 670.40 V673.60" stroke="#231f20" stroke-width="1.8"/>
<text x="231.63" y="684.80" font-size="10.5" text-anchor="middle" textLength="10.0" lengthAdjust="spacingAndGlyphs">40</text>
<path d="M253.53 670.40 V673.60" stroke="#231f20" stroke-width="1.8"/>
<path d="M280.52 670.40 V673.60" stroke="#231f20" stroke-width="1.8"/>
<text x="280.12" y="684.80" font-size="10.5" text-anchor="middle" textLength="10.0" lengthAdjust="spacingAndGlyphs">50</text>
<path d="M302.02 670.40 V673.60" stroke="#231f20" stroke-width="1.8"/>
<path d="M329.00 670.40 V673.60" stroke="#231f20" stroke-width="1.8"/>
<text x="328.60" y="684.80" font-size="10.5" text-anchor="middle" textLength="10.0" lengthAdjust="spacingAndGlyphs">60</text>
<text transform="translate(12.50 618.10) rotate(-90)" x="0" y="0" font-size="14.5" text-anchor="middle" textLength="112.5" lengthAdjust="spacingAndGlyphs">Surface elevation (m)</text>
<text x="47.40" y="578.50" font-size="16.8" textLength="20.80" lengthAdjust="spacingAndGlyphs">Ofu</text>
<path d="M38.29 612.78 C40.62 612.78 47.59 612.83 52.31 612.78 C57.03 612.74 63.04 612.54 66.61 612.50 C70.19 612.45 71.86 612.38 73.77 612.50 C75.67 612.62 76.39 613.16 78.06 613.21 C79.73 613.26 82.11 612.95 83.78 612.78 C85.45 612.62 86.40 612.21 88.07 612.21 C89.74 612.21 91.89 612.85 93.80 612.78 C95.70 612.71 97.85 611.83 99.52 611.78 C101.19 611.73 102.62 612.26 103.81 612.50 C105.00 612.74 105.00 613.05 106.67 613.21 C108.34 613.38 112.04 613.57 113.82 613.50 C115.61 613.43 116.09 613.07 117.40 612.78 C118.71 612.50 120.14 611.83 121.69 611.78 C123.24 611.73 124.55 612.38 126.70 612.50 C128.85 612.62 132.79 612.43 134.57 612.50 C136.35 612.57 136.50 612.75 137.36 612.92 C138.23 613.09 138.95 613.51 139.74 613.51 C140.54 613.51 141.13 613.12 142.12 612.92 C143.11 612.72 144.50 612.38 145.69 612.32 C146.88 612.26 148.17 612.50 149.26 612.56 C150.35 612.62 151.24 612.82 152.23 612.68 C153.23 612.54 154.22 612.05 155.21 611.73 C156.20 611.41 157.19 610.88 158.18 610.78 C159.17 610.68 160.17 610.94 161.16 611.13 C162.15 611.33 163.24 611.57 164.13 611.97 C165.02 612.36 165.82 612.86 166.51 613.51 C167.21 614.17 167.70 615.04 168.30 615.89 C168.89 616.74 169.45 617.74 170.08 618.63 C170.71 619.52 171.41 620.45 172.10 621.25 C172.80 622.04 173.53 622.89 174.24 623.39 C174.96 623.88 175.79 624.58 176.39 624.22 C176.98 623.86 177.38 622.73 177.81 621.25 C178.25 619.76 178.40 618.47 179.00 615.30 C179.60 612.13 180.63 605.88 181.40 602.20 C182.17 598.52 182.90 595.34 183.60 593.20 C184.30 591.06 185.02 589.74 185.62 589.36 C186.21 588.98 186.65 589.96 187.16 590.91 C187.68 591.86 188.21 593.39 188.71 595.07 C189.21 596.76 189.60 599.14 190.14 601.02 C190.67 602.90 191.33 604.69 191.92 606.37 C192.52 608.06 193.11 609.25 193.71 611.13 C194.30 613.02 194.90 615.69 195.49 617.68 C196.09 619.66 196.62 621.74 197.28 623.03 C197.93 624.32 198.92 627.10 199.42 625.41 C199.91 623.72 200.01 617.58 200.25 612.92 C200.49 608.26 200.59 600.33 200.85 597.45 C201.10 594.58 201.44 596.86 201.80 595.67 C202.15 594.48 202.55 591.01 202.99 590.31 C203.42 589.62 203.94 590.11 204.41 591.50 C204.89 592.89 205.35 595.86 205.84 598.64 C206.34 601.42 206.87 605.18 207.39 608.16 C207.90 611.13 208.40 614.21 208.94 616.49 C209.47 618.77 210.07 621.25 210.60 621.84 C211.14 622.44 211.59 620.35 212.15 620.06 C212.70 619.76 213.44 620.45 213.93 620.06 C214.43 619.66 214.73 621.15 215.12 617.68 C215.52 614.21 215.95 601.46 216.31 599.24 C216.67 597.02 216.91 604.05 217.26 604.35 C217.62 604.65 218.12 601.93 218.45 601.02 C218.79 600.11 218.95 598.28 219.29 598.88 C219.62 599.47 220.08 602.45 220.48 604.59 C220.87 606.73 221.17 608.95 221.67 611.73 C222.16 614.50 222.86 618.87 223.45 621.25 C224.05 623.63 224.64 625.11 225.23 626.01 C225.83 626.90 226.52 627.00 227.02 626.60 C227.52 626.20 227.85 626.30 228.21 623.63 C228.57 620.95 228.76 613.51 229.16 610.54 C229.56 607.56 230.05 606.93 230.59 605.78 C231.12 604.63 231.78 604.13 232.37 603.64 C232.97 603.14 233.56 602.65 234.16 602.81 C234.75 602.96 235.35 603.30 235.94 604.59 C236.54 605.88 237.19 609.05 237.73 610.54 C238.26 612.03 238.66 613.31 239.15 613.51 C239.65 613.71 240.24 611.53 240.70 611.73 C241.16 611.93 241.39 613.51 241.89 614.70 C242.39 615.89 243.14 617.88 243.68 618.87 C244.21 619.86 244.61 620.55 245.10 620.65 C245.60 620.75 246.13 620.16 246.65 619.46 C247.17 618.77 247.70 617.18 248.20 616.49 C248.69 615.79 249.09 615.59 249.62 615.30 C250.16 615.00 250.85 614.60 251.41 614.70 C251.96 614.80 252.46 615.16 252.95 615.89 C253.45 616.63 253.91 619.40 254.38 619.10 C254.86 618.81 255.48 615.54 255.81 614.11 C256.14 612.68 256.09 612.28 256.36 610.54 C256.63 608.79 256.99 604.43 257.43 603.64 C257.86 602.84 258.42 605.46 258.97 605.78 C259.53 606.10 260.16 605.24 260.76 605.54 C261.35 605.84 261.99 606.53 262.54 607.56 C263.10 608.60 263.59 610.34 264.09 611.73 C264.59 613.12 264.92 614.60 265.52 615.89 C266.11 617.18 267.02 619.26 267.66 619.46 C268.29 619.66 268.73 617.82 269.32 617.08 C269.92 616.35 270.57 615.65 271.23 615.06 C271.88 614.46 272.62 614.03 273.25 613.51 C273.89 613.00 274.44 612.66 275.04 611.97 C275.63 611.27 276.26 609.49 276.82 609.35 C277.38 609.21 277.87 610.34 278.37 611.13 C278.86 611.93 279.26 613.65 279.79 614.11 C280.33 614.56 280.98 613.83 281.58 613.87 C282.17 613.91 282.77 614.35 283.36 614.35 C283.96 614.35 284.59 613.87 285.15 613.87 C285.70 613.87 286.16 614.11 286.69 614.35 C287.23 614.58 287.73 615.14 288.36 615.30 C288.99 615.46 289.85 615.50 290.50 615.30 C291.16 615.10 291.73 615.20 292.29 614.11 C292.84 613.02 293.30 609.78 293.83 608.75 C294.37 607.72 294.96 607.82 295.50 607.92 C296.03 608.02 296.49 608.81 297.05 609.35 C297.60 609.88 298.23 610.64 298.83 611.13 C299.42 611.63 300.06 612.42 300.61 612.32 C301.17 612.22 301.67 610.64 302.16 610.54 C302.66 610.44 303.11 611.63 303.59 611.73 C304.06 611.83 304.52 611.13 305.02 611.13 C305.51 611.13 306.05 611.23 306.56 611.73 C307.08 612.22 307.61 612.92 308.11 614.11 C308.61 615.30 309.00 617.58 309.54 618.87 C310.07 620.16 310.77 621.44 311.32 621.84 C311.88 622.24 312.37 621.94 312.87 621.25 C313.36 620.55 313.76 619.10 314.30 617.68 C314.83 616.25 315.49 613.63 316.08 612.68 C316.68 611.73 317.17 612.16 317.86 611.97 C318.56 611.77 319.55 611.73 320.24 611.49 C320.94 611.25 321.43 610.74 322.03 610.54 C322.62 610.34 323.22 610.14 323.81 610.30 C324.41 610.46 325.00 611.55 325.60 611.49 C326.19 611.43 326.93 610.14 327.38 609.94 C327.84 609.75 328.18 610.24 328.33 610.30" fill="none" stroke="#e3261f" stroke-width="1.3" stroke-linejoin="round" stroke-linecap="round"/>
<path d="M38.10 692.50 H329.00 V803.40 H38.10 Z" fill="none" stroke="#231f20" stroke-width="1.8"/>
<path d="M34.10 692.50 H38.10" stroke="#231f20" stroke-width="1.8"/>
<text x="31.70" y="695.70" font-size="10.5" text-anchor="end" textLength="9.8" lengthAdjust="spacingAndGlyphs">10</text>
<path d="M34.10 720.23 H38.10" stroke="#231f20" stroke-width="1.8"/>
<text x="31.70" y="723.43" font-size="10.5" text-anchor="end" textLength="5.0" lengthAdjust="spacingAndGlyphs">5</text>
<path d="M34.10 747.95 H38.10" stroke="#231f20" stroke-width="1.8"/>
<text x="31.70" y="751.15" font-size="10.5" text-anchor="end" textLength="5.0" lengthAdjust="spacingAndGlyphs">0</text>
<path d="M34.10 775.68 H38.10" stroke="#231f20" stroke-width="1.8"/>
<text x="31.70" y="778.88" font-size="10.5" text-anchor="end" textLength="8.4" lengthAdjust="spacingAndGlyphs">-5</text>
<path d="M34.10 803.40 H38.10" stroke="#231f20" stroke-width="1.8"/>
<text x="31.70" y="806.60" font-size="10.5" text-anchor="end" textLength="13.6" lengthAdjust="spacingAndGlyphs">-10</text>
<path d="M38.10 747.95 H329.00" stroke="#231f20" stroke-width="1.8"/>
<path d="M38.10 803.40 V806.60" stroke="#231f20" stroke-width="1.8"/>
<text x="38.10" y="817.80" font-size="10.5" text-anchor="middle" textLength="4.6" lengthAdjust="spacingAndGlyphs">0</text>
<path d="M59.60 803.40 V806.60" stroke="#231f20" stroke-width="1.8"/>
<path d="M86.58 803.40 V806.60" stroke="#231f20" stroke-width="1.8"/>
<text x="86.18" y="817.80" font-size="10.5" text-anchor="middle" textLength="10.0" lengthAdjust="spacingAndGlyphs">10</text>
<path d="M108.08 803.40 V806.60" stroke="#231f20" stroke-width="1.8"/>
<path d="M135.07 803.40 V806.60" stroke="#231f20" stroke-width="1.8"/>
<text x="134.67" y="817.80" font-size="10.5" text-anchor="middle" textLength="10.0" lengthAdjust="spacingAndGlyphs">20</text>
<path d="M156.57 803.40 V806.60" stroke="#231f20" stroke-width="1.8"/>
<path d="M183.55 803.40 V806.60" stroke="#231f20" stroke-width="1.8"/>
<text x="183.15" y="817.80" font-size="10.5" text-anchor="middle" textLength="10.0" lengthAdjust="spacingAndGlyphs">30</text>
<path d="M205.05 803.40 V806.60" stroke="#231f20" stroke-width="1.8"/>
<path d="M232.03 803.40 V806.60" stroke="#231f20" stroke-width="1.8"/>
<text x="231.63" y="817.80" font-size="10.5" text-anchor="middle" textLength="10.0" lengthAdjust="spacingAndGlyphs">40</text>
<path d="M253.53 803.40 V806.60" stroke="#231f20" stroke-width="1.8"/>
<path d="M280.52 803.40 V806.60" stroke="#231f20" stroke-width="1.8"/>
<text x="280.12" y="817.80" font-size="10.5" text-anchor="middle" textLength="10.0" lengthAdjust="spacingAndGlyphs">50</text>
<path d="M302.02 803.40 V806.60" stroke="#231f20" stroke-width="1.8"/>
<path d="M329.00 803.40 V806.60" stroke="#231f20" stroke-width="1.8"/>
<text x="328.60" y="817.80" font-size="10.5" text-anchor="middle" textLength="10.0" lengthAdjust="spacingAndGlyphs">60</text>
<text transform="translate(12.50 751.15) rotate(-90)" x="0" y="0" font-size="14.5" text-anchor="middle" textLength="112.5" lengthAdjust="spacingAndGlyphs">Surface elevation (m)</text>
<text x="47.40" y="709.50" font-size="16.8" textLength="46.95" lengthAdjust="spacingAndGlyphs">Olosega</text>
<path d="M38.29 745.50 C40.62 745.50 48.06 745.54 52.31 745.50 C56.55 745.45 60.65 745.33 63.75 745.21 C66.85 745.09 68.76 744.73 70.91 744.78 C73.05 744.83 74.72 745.26 76.63 745.50 C78.54 745.74 80.44 746.28 82.35 746.21 C84.26 746.14 86.28 745.38 88.07 745.07 C89.86 744.76 91.41 744.30 93.08 744.35 C94.75 744.40 96.54 745.07 98.09 745.35 C99.64 745.64 100.47 746.05 102.38 746.07 C104.29 746.09 106.91 745.59 109.53 745.50 C112.16 745.40 115.26 745.57 118.12 745.50 C120.98 745.43 124.55 745.19 126.70 745.07 C128.85 744.95 129.56 744.71 130.99 744.78 C132.42 744.85 134.02 745.31 135.28 745.50 C136.54 745.69 137.41 745.91 138.55 745.92 C139.69 745.93 140.93 745.66 142.12 745.56 C143.31 745.46 144.50 745.36 145.69 745.32 C146.88 745.28 148.17 745.42 149.26 745.32 C150.35 745.22 151.24 744.89 152.23 744.73 C153.23 744.57 154.12 744.41 155.21 744.37 C156.30 744.33 157.59 744.47 158.78 744.49 C159.97 744.51 161.32 744.41 162.35 744.49 C163.38 744.57 164.21 744.63 164.96 744.97 C165.72 745.30 166.27 745.76 166.87 746.51 C167.46 747.27 167.90 748.44 168.53 749.49 C169.17 750.54 169.92 751.79 170.68 752.82 C171.43 753.85 172.26 754.94 173.05 755.67 C173.85 756.41 174.74 756.90 175.43 757.22 C176.13 757.54 176.66 757.87 177.22 757.58 C177.77 757.28 178.10 757.03 178.77 755.44 C179.43 753.84 180.43 751.17 181.20 748.00 C181.97 744.83 182.82 739.92 183.36 736.40 C183.89 732.88 183.99 729.66 184.43 726.88 C184.86 724.11 185.32 721.57 185.97 719.74 C186.63 717.92 187.62 716.33 188.35 715.94 C189.09 715.54 189.72 716.23 190.38 717.36 C191.03 718.49 191.68 720.74 192.28 722.72 C192.87 724.70 193.41 726.39 193.95 729.26 C194.48 732.14 194.98 736.20 195.49 739.97 C196.01 743.74 196.50 748.30 197.04 751.87 C197.57 755.44 198.17 758.61 198.70 761.38 C199.24 764.16 199.70 766.54 200.25 768.52 C200.81 770.51 201.50 773.28 202.04 773.28 C202.57 773.28 203.03 770.90 203.46 768.52 C203.90 766.14 204.26 762.97 204.65 759.01 C205.05 755.04 205.45 748.40 205.84 744.73 C206.24 741.06 206.64 738.68 207.03 736.99 C207.43 735.31 207.83 734.12 208.22 734.62 C208.62 735.11 209.02 738.38 209.41 739.97 C209.81 741.56 210.15 743.04 210.60 744.13 C211.06 745.22 211.63 745.92 212.15 746.51 C212.66 747.11 213.20 747.90 213.69 747.70 C214.19 747.50 214.69 745.98 215.12 745.32 C215.56 744.67 215.88 743.68 216.31 743.78 C216.75 743.88 217.24 745.07 217.74 745.92 C218.24 746.77 218.73 748.10 219.29 748.89 C219.84 749.69 220.48 750.22 221.07 750.68 C221.67 751.13 222.26 751.27 222.86 751.63 C223.45 751.99 224.10 753.18 224.64 752.82 C225.18 752.46 225.57 751.03 226.07 749.49 C226.56 747.94 227.06 745.16 227.61 743.54 C228.17 741.91 228.90 740.48 229.40 739.73 C229.89 738.98 230.15 738.58 230.59 739.02 C231.02 739.45 231.52 740.70 232.02 742.35 C232.51 743.99 233.05 747.01 233.56 748.89 C234.08 750.78 234.61 753.16 235.11 753.65 C235.61 754.15 236.06 753.25 236.54 751.87 C237.01 750.48 237.47 747.15 237.96 745.32 C238.46 743.50 238.96 742.11 239.51 740.92 C240.07 739.73 240.80 738.34 241.30 738.18 C241.79 738.03 241.99 739.18 242.49 739.97 C242.98 740.76 243.68 741.65 244.27 742.94 C244.86 744.23 245.56 747.11 246.05 747.70 C246.55 748.30 246.85 747.31 247.24 746.51 C247.64 745.72 248.00 743.80 248.43 742.94 C248.87 742.09 249.37 741.40 249.86 741.40 C250.36 741.40 250.89 741.99 251.41 742.94 C251.92 743.90 252.46 745.66 252.95 747.11 C253.45 748.56 253.91 750.48 254.38 751.63 C254.86 752.78 255.54 753.57 255.81 754.01 C256.08 754.44 255.73 754.21 256.00 754.25 C256.27 754.29 256.93 754.84 257.43 754.25 C257.92 753.65 258.46 752.26 258.97 750.68 C259.49 749.09 259.99 746.67 260.52 744.73 C261.06 742.78 261.65 740.25 262.19 739.02 C262.72 737.79 263.22 737.75 263.73 737.35 C264.25 736.96 264.78 736.30 265.28 736.64 C265.78 736.98 266.23 738.13 266.71 739.37 C267.18 740.62 267.58 742.94 268.14 744.13 C268.69 745.32 269.38 746.06 270.04 746.51 C270.69 746.97 271.43 746.57 272.06 746.87 C272.70 747.17 273.25 747.62 273.85 748.30 C274.44 748.97 275.08 750.28 275.63 750.91 C276.19 751.55 276.64 752.24 277.18 752.10 C277.71 751.97 278.31 751.11 278.84 750.08 C279.38 749.05 279.87 747.50 280.39 745.92 C280.90 744.33 281.40 741.71 281.94 740.56 C282.47 739.41 283.07 739.47 283.60 739.02 C284.14 738.56 284.63 737.47 285.15 737.83 C285.66 738.18 286.20 739.91 286.69 741.16 C287.19 742.41 287.59 744.33 288.12 745.32 C288.66 746.31 289.31 746.85 289.91 747.11 C290.50 747.37 291.10 746.87 291.69 746.87 C292.29 746.87 292.88 746.77 293.48 747.11 C294.07 747.44 294.67 748.54 295.26 748.89 C295.86 749.25 296.45 749.51 297.05 749.25 C297.64 748.99 298.23 747.90 298.83 747.35 C299.42 746.79 300.02 746.20 300.61 745.92 C301.21 745.64 301.80 745.98 302.40 745.68 C302.99 745.38 303.59 744.79 304.18 744.13 C304.78 743.48 305.43 742.35 305.97 741.75 C306.50 741.16 306.90 740.46 307.40 740.56 C307.89 740.66 308.39 741.62 308.94 742.35 C309.50 743.08 310.13 744.21 310.73 744.97 C311.32 745.72 311.92 746.55 312.51 746.87 C313.11 747.19 313.70 746.99 314.30 746.87 C314.89 746.75 315.49 746.12 316.08 746.16 C316.68 746.20 317.27 746.91 317.86 747.11 C318.46 747.31 319.05 747.39 319.65 747.35 C320.24 747.31 320.74 747.01 321.43 746.87 C322.13 746.73 323.12 746.83 323.81 746.51 C324.51 746.20 325.04 745.62 325.60 744.97 C326.15 744.31 326.61 743.18 327.14 742.59 C327.68 741.99 328.53 741.60 328.81 741.40" fill="none" stroke="#e3261f" stroke-width="1.3" stroke-linejoin="round" stroke-linecap="round"/>
<path d="M38.10 827.30 H329.00 V938.30 H38.10 Z" fill="none" stroke="#231f20" stroke-width="1.8"/>
<path d="M34.10 827.30 H38.10" stroke="#231f20" stroke-width="1.8"/>
<text x="31.70" y="830.50" font-size="10.5" text-anchor="end" textLength="9.8" lengthAdjust="spacingAndGlyphs">10</text>
<path d="M34.10 855.05 H38.10" stroke="#231f20" stroke-width="1.8"/>
<text x="31.70" y="858.25" font-size="10.5" text-anchor="end" textLength="5.0" lengthAdjust="spacingAndGlyphs">5</text>
<path d="M34.10 882.80 H38.10" stroke="#231f20" stroke-width="1.8"/>
<text x="31.70" y="886.00" font-size="10.5" text-anchor="end" textLength="5.0" lengthAdjust="spacingAndGlyphs">0</text>
<path d="M34.10 910.55 H38.10" stroke="#231f20" stroke-width="1.8"/>
<text x="31.70" y="913.75" font-size="10.5" text-anchor="end" textLength="8.4" lengthAdjust="spacingAndGlyphs">-5</text>
<path d="M34.10 938.30 H38.10" stroke="#231f20" stroke-width="1.8"/>
<text x="31.70" y="941.50" font-size="10.5" text-anchor="end" textLength="13.6" lengthAdjust="spacingAndGlyphs">-10</text>
<path d="M38.10 882.80 H329.00" stroke="#231f20" stroke-width="1.8"/>
<path d="M38.10 938.30 V941.50" stroke="#231f20" stroke-width="1.8"/>
<text x="38.10" y="952.70" font-size="10.5" text-anchor="middle" textLength="4.6" lengthAdjust="spacingAndGlyphs">0</text>
<path d="M59.60 938.30 V941.50" stroke="#231f20" stroke-width="1.8"/>
<path d="M86.58 938.30 V941.50" stroke="#231f20" stroke-width="1.8"/>
<text x="86.18" y="952.70" font-size="10.5" text-anchor="middle" textLength="10.0" lengthAdjust="spacingAndGlyphs">10</text>
<path d="M108.08 938.30 V941.50" stroke="#231f20" stroke-width="1.8"/>
<path d="M135.07 938.30 V941.50" stroke="#231f20" stroke-width="1.8"/>
<text x="134.67" y="952.70" font-size="10.5" text-anchor="middle" textLength="10.0" lengthAdjust="spacingAndGlyphs">20</text>
<path d="M156.57 938.30 V941.50" stroke="#231f20" stroke-width="1.8"/>
<path d="M183.55 938.30 V941.50" stroke="#231f20" stroke-width="1.8"/>
<text x="183.15" y="952.70" font-size="10.5" text-anchor="middle" textLength="10.0" lengthAdjust="spacingAndGlyphs">30</text>
<path d="M205.05 938.30 V941.50" stroke="#231f20" stroke-width="1.8"/>
<path d="M232.03 938.30 V941.50" stroke="#231f20" stroke-width="1.8"/>
<text x="231.63" y="952.70" font-size="10.5" text-anchor="middle" textLength="10.0" lengthAdjust="spacingAndGlyphs">40</text>
<path d="M253.53 938.30 V941.50" stroke="#231f20" stroke-width="1.8"/>
<path d="M280.52 938.30 V941.50" stroke="#231f20" stroke-width="1.8"/>
<text x="280.12" y="952.70" font-size="10.5" text-anchor="middle" textLength="10.0" lengthAdjust="spacingAndGlyphs">50</text>
<path d="M302.02 938.30 V941.50" stroke="#231f20" stroke-width="1.8"/>
<path d="M329.00 938.30 V941.50" stroke="#231f20" stroke-width="1.8"/>
<text x="328.60" y="952.70" font-size="10.5" text-anchor="middle" textLength="10.0" lengthAdjust="spacingAndGlyphs">60</text>
<text transform="translate(12.50 886.00) rotate(-90)" x="0" y="0" font-size="14.5" text-anchor="middle" textLength="112.5" lengthAdjust="spacingAndGlyphs">Surface elevation (m)</text>
<text x="47.00" y="845.60" font-size="16.8" textLength="68.04" lengthAdjust="spacingAndGlyphs">Luma (Ta&#39;u)</text>
<path d="M38.29 880.50 C40.62 880.50 47.59 880.50 52.31 880.50 C57.03 880.50 61.84 880.52 66.61 880.50 C71.38 880.47 77.58 880.26 80.92 880.35 C84.26 880.45 84.50 881.19 86.64 881.07 C88.79 880.95 91.65 879.64 93.80 879.64 C95.94 879.64 97.66 881.07 99.52 881.07 C101.38 881.07 102.93 879.61 104.95 879.64 C106.98 879.66 109.49 881.12 111.68 881.21 C113.87 881.31 116.09 880.45 118.12 880.21 C120.14 879.97 121.93 879.76 123.84 879.78 C125.75 879.81 127.65 880.26 129.56 880.35 C131.47 880.45 133.79 880.32 135.28 880.35 C136.78 880.39 137.22 880.57 138.55 880.56 C139.89 880.56 141.73 880.32 143.31 880.32 C144.90 880.32 146.58 880.56 148.07 880.56 C149.56 880.56 151.14 880.46 152.23 880.32 C153.33 880.18 153.82 879.87 154.61 879.73 C155.41 879.59 156.10 879.43 156.99 879.49 C157.89 879.55 158.88 879.89 159.97 880.09 C161.06 880.28 162.45 880.44 163.54 880.68 C164.63 880.92 165.62 881.08 166.51 881.51 C167.40 881.95 168.10 882.64 168.89 883.30 C169.68 883.95 170.38 884.84 171.27 885.44 C172.16 886.03 173.39 886.83 174.24 886.87 C175.10 886.91 175.75 886.37 176.39 885.68 C177.02 884.98 177.65 883.20 178.05 882.70 C178.45 882.21 178.44 883.58 178.80 882.70 C179.16 881.82 179.67 879.08 180.20 877.40 C180.73 875.72 181.40 874.38 182.00 872.60 C182.60 870.82 183.20 868.18 183.80 866.70 C184.40 865.22 185.10 864.27 185.60 863.70 C186.10 863.13 186.35 863.02 186.81 863.31 C187.27 863.60 187.84 864.20 188.35 865.45 C188.87 866.70 189.36 868.62 189.90 870.81 C190.44 872.99 190.97 875.66 191.57 878.54 C192.16 881.41 192.91 885.48 193.47 888.06 C194.02 890.63 194.36 892.58 194.90 894.01 C195.43 895.43 196.09 896.62 196.68 896.62 C197.28 896.62 197.87 895.83 198.47 894.01 C199.06 892.18 199.66 888.85 200.25 885.68 C200.85 882.50 201.50 878.04 202.04 874.97 C202.57 871.90 202.97 869.26 203.46 867.24 C203.96 865.21 204.49 862.73 205.01 862.83 C205.53 862.93 206.02 865.81 206.56 867.83 C207.09 869.85 207.69 871.60 208.22 874.97 C208.76 878.34 209.21 884.19 209.77 888.06 C210.32 891.92 211.02 895.49 211.55 898.17 C212.09 900.85 212.54 903.82 212.98 904.12 C213.42 904.42 213.71 902.23 214.17 899.95 C214.63 897.67 215.16 893.61 215.72 890.44 C216.27 887.26 216.91 884.49 217.50 880.92 C218.10 877.35 218.73 871.90 219.29 869.02 C219.84 866.15 220.34 864.06 220.83 863.67 C221.33 863.27 221.78 864.76 222.26 866.64 C222.74 868.52 223.19 871.99 223.69 874.97 C224.18 877.94 224.72 882.01 225.23 884.49 C225.75 886.97 226.25 888.85 226.78 889.84 C227.32 890.83 227.91 890.54 228.45 890.44 C228.98 890.34 229.44 889.84 229.99 889.25 C230.55 888.65 231.24 888.45 231.78 886.87 C232.31 885.28 232.77 882.11 233.21 879.73 C233.64 877.35 233.94 874.33 234.40 872.59 C234.85 870.84 235.43 869.56 235.94 869.26 C236.46 868.96 236.95 869.85 237.49 870.81 C238.02 871.76 238.62 873.09 239.15 874.97 C239.69 876.85 240.19 880.03 240.70 882.11 C241.22 884.19 241.71 886.47 242.25 887.46 C242.78 888.45 243.32 887.72 243.91 888.06 C244.51 888.39 245.26 889.88 245.82 889.48 C246.37 889.09 246.77 887.90 247.24 885.68 C247.72 883.46 248.18 879.33 248.67 876.16 C249.17 872.99 249.76 868.82 250.22 866.64 C250.67 864.46 251.01 863.27 251.41 863.07 C251.80 862.87 252.14 863.47 252.60 865.45 C253.05 867.43 253.65 871.40 254.14 874.97 C254.64 878.54 255.16 883.50 255.57 886.87 C255.98 890.24 256.23 893.11 256.59 895.19 C256.96 897.28 257.39 899.36 257.78 899.36 C258.18 899.36 258.58 896.88 258.97 895.19 C259.37 893.51 259.77 890.83 260.16 889.25 C260.56 887.66 260.96 887.66 261.35 885.68 C261.75 883.69 262.15 880.12 262.54 877.35 C262.94 874.57 263.34 871.30 263.73 869.02 C264.13 866.74 264.53 863.67 264.92 863.67 C265.32 863.67 265.66 866.54 266.11 869.02 C266.57 871.50 267.16 875.56 267.66 878.54 C268.15 881.51 268.61 884.78 269.09 886.87 C269.56 888.95 270.02 890.63 270.51 891.03 C271.01 891.43 271.51 890.24 272.06 889.25 C272.62 888.25 273.25 886.67 273.85 885.08 C274.44 883.50 275.08 881.81 275.63 879.73 C276.19 877.65 276.72 874.28 277.18 872.59 C277.63 870.90 277.93 869.42 278.37 869.62 C278.80 869.81 279.26 872.39 279.79 873.78 C280.33 875.17 281.02 876.36 281.58 877.94 C282.13 879.53 282.53 881.91 283.13 883.30 C283.72 884.69 284.47 885.48 285.15 886.27 C285.82 887.06 286.58 888.06 287.17 888.06 C287.77 888.06 288.20 887.46 288.72 886.27 C289.23 885.08 289.81 882.50 290.26 880.92 C290.72 879.33 291.02 877.65 291.45 876.75 C291.89 875.86 292.41 875.46 292.88 875.56 C293.36 875.66 293.75 876.62 294.31 877.35 C294.86 878.08 295.56 879.17 296.21 879.97 C296.87 880.76 297.50 881.51 298.23 882.11 C298.97 882.70 299.82 883.38 300.61 883.54 C301.41 883.69 302.30 883.50 302.99 883.06 C303.69 882.62 304.18 881.77 304.78 880.92 C305.37 880.07 305.97 878.74 306.56 877.94 C307.16 877.15 307.75 876.46 308.35 876.16 C308.94 875.86 309.54 875.86 310.13 876.16 C310.73 876.46 311.38 877.15 311.92 877.94 C312.45 878.74 312.85 879.93 313.34 880.92 C313.84 881.91 314.34 883.50 314.89 883.89 C315.45 884.29 315.98 883.50 316.68 883.30 C317.37 883.10 318.36 883.10 319.05 882.70 C319.75 882.31 320.34 881.61 320.84 880.92 C321.33 880.22 321.63 879.23 322.03 878.54 C322.43 877.84 322.76 876.95 323.22 876.75 C323.67 876.56 324.27 876.85 324.77 877.35 C325.26 877.84 325.66 878.97 326.19 879.73 C326.73 880.48 327.54 881.37 327.98 881.87 C328.41 882.37 328.67 882.56 328.81 882.70" fill="none" stroke="#e3261f" stroke-width="1.3" stroke-linejoin="round" stroke-linecap="round"/>
<path d="M390.20 30.60 H680.90 V141.75 H390.20 Z" fill="none" stroke="#231f20" stroke-width="1.8"/>
<path d="M386.20 30.60 H390.20" stroke="#231f20" stroke-width="1.8"/>
<text x="383.80" y="33.80" font-size="10.5" text-anchor="end" textLength="9.8" lengthAdjust="spacingAndGlyphs">10</text>
<path d="M386.20 58.39 H390.20" stroke="#231f20" stroke-width="1.8"/>
<text x="383.80" y="61.59" font-size="10.5" text-anchor="end" textLength="5.0" lengthAdjust="spacingAndGlyphs">5</text>
<path d="M386.20 86.17 H390.20" stroke="#231f20" stroke-width="1.8"/>
<text x="383.80" y="89.38" font-size="10.5" text-anchor="end" textLength="5.0" lengthAdjust="spacingAndGlyphs">0</text>
<path d="M386.20 113.96 H390.20" stroke="#231f20" stroke-width="1.8"/>
<text x="383.80" y="117.16" font-size="10.5" text-anchor="end" textLength="8.4" lengthAdjust="spacingAndGlyphs">-5</text>
<path d="M386.20 141.75 H390.20" stroke="#231f20" stroke-width="1.8"/>
<text x="383.80" y="144.95" font-size="10.5" text-anchor="end" textLength="13.6" lengthAdjust="spacingAndGlyphs">-10</text>
<path d="M390.20 86.17 H680.90" stroke="#231f20" stroke-width="1.8"/>
<path d="M390.20 141.75 V144.95" stroke="#231f20" stroke-width="1.8"/>
<text x="390.20" y="156.15" font-size="10.5" text-anchor="middle" textLength="4.6" lengthAdjust="spacingAndGlyphs">0</text>
<path d="M411.70 141.75 V144.95" stroke="#231f20" stroke-width="1.8"/>
<path d="M438.65 141.75 V144.95" stroke="#231f20" stroke-width="1.8"/>
<text x="438.25" y="156.15" font-size="10.5" text-anchor="middle" textLength="10.0" lengthAdjust="spacingAndGlyphs">10</text>
<path d="M460.15 141.75 V144.95" stroke="#231f20" stroke-width="1.8"/>
<path d="M487.10 141.75 V144.95" stroke="#231f20" stroke-width="1.8"/>
<text x="486.70" y="156.15" font-size="10.5" text-anchor="middle" textLength="10.0" lengthAdjust="spacingAndGlyphs">20</text>
<path d="M508.60 141.75 V144.95" stroke="#231f20" stroke-width="1.8"/>
<path d="M535.55 141.75 V144.95" stroke="#231f20" stroke-width="1.8"/>
<text x="535.15" y="156.15" font-size="10.5" text-anchor="middle" textLength="10.0" lengthAdjust="spacingAndGlyphs">30</text>
<path d="M557.05 141.75 V144.95" stroke="#231f20" stroke-width="1.8"/>
<path d="M584.00 141.75 V144.95" stroke="#231f20" stroke-width="1.8"/>
<text x="583.60" y="156.15" font-size="10.5" text-anchor="middle" textLength="10.0" lengthAdjust="spacingAndGlyphs">40</text>
<path d="M605.50 141.75 V144.95" stroke="#231f20" stroke-width="1.8"/>
<path d="M632.45 141.75 V144.95" stroke="#231f20" stroke-width="1.8"/>
<text x="632.05" y="156.15" font-size="10.5" text-anchor="middle" textLength="10.0" lengthAdjust="spacingAndGlyphs">50</text>
<path d="M653.95 141.75 V144.95" stroke="#231f20" stroke-width="1.8"/>
<path d="M680.90 141.75 V144.95" stroke="#231f20" stroke-width="1.8"/>
<text x="680.50" y="156.15" font-size="10.5" text-anchor="middle" textLength="10.0" lengthAdjust="spacingAndGlyphs">60</text>
<text transform="translate(364.60 89.38) rotate(-90)" x="0" y="0" font-size="14.5" text-anchor="middle" textLength="112.5" lengthAdjust="spacingAndGlyphs">Surface elevation (m)</text>
<text x="398.30" y="49.50" font-size="16.8" textLength="48.44" lengthAdjust="spacingAndGlyphs">Vailoatai</text>
<path d="M390.59 83.32 C392.48 83.32 398.03 83.30 401.90 83.32 C405.76 83.34 410.23 83.42 413.79 83.44 C417.36 83.46 420.64 83.52 423.31 83.44 C425.99 83.36 427.87 82.93 429.86 82.97 C431.84 83.01 433.52 83.48 435.21 83.68 C436.89 83.88 438.18 84.20 439.97 84.16 C441.75 84.12 444.03 83.64 445.92 83.44 C447.80 83.24 449.49 82.97 451.27 82.97 C453.05 82.97 454.94 83.28 456.62 83.44 C458.31 83.60 460.09 83.68 461.38 83.92 C462.68 84.16 463.48 84.83 464.38 84.87 C465.28 84.91 465.97 84.51 466.76 84.16 C467.55 83.80 468.25 83.26 469.14 82.73 C470.03 82.19 471.12 81.58 472.11 80.94 C473.10 80.31 474.19 79.81 475.09 78.92 C475.98 78.03 476.67 77.04 477.47 75.59 C478.26 74.14 479.09 72.22 479.85 70.24 C480.60 68.25 481.29 65.58 481.99 63.69 C482.68 61.81 483.38 60.06 484.01 58.93 C484.64 57.80 485.20 57.11 485.79 56.91 C486.39 56.71 487.02 56.81 487.58 57.74 C488.13 58.68 488.59 60.32 489.13 62.50 C489.66 64.68 490.26 67.86 490.79 70.83 C491.33 73.81 491.88 77.37 492.34 80.35 C492.79 83.32 493.03 85.70 493.53 88.68 C494.02 91.65 494.72 95.22 495.31 98.19 C495.91 101.17 496.50 104.04 497.10 106.52 C497.69 109.00 498.35 111.58 498.88 113.07 C499.42 114.55 499.87 115.74 500.31 115.45 C500.74 115.15 501.10 113.17 501.50 111.28 C501.89 109.40 502.23 106.32 502.69 104.14 C503.14 101.96 503.78 100.38 504.23 98.19 C504.69 96.01 504.97 93.63 505.42 91.06 C505.88 88.48 506.48 85.31 506.97 82.73 C507.47 80.15 507.92 77.67 508.40 75.59 C508.87 73.51 509.43 72.81 509.83 70.24 C510.22 67.66 510.52 63.49 510.78 60.12 C511.04 56.75 511.08 51.10 511.37 50.01 C511.67 48.92 512.17 51.89 512.56 53.58 C512.96 55.26 513.36 57.45 513.75 60.12 C514.15 62.80 514.49 66.27 514.94 69.64 C515.40 73.01 515.99 76.78 516.49 80.35 C516.98 83.92 517.44 87.49 517.92 91.06 C518.39 94.63 518.85 98.19 519.34 101.76 C519.84 105.33 520.43 109.30 520.89 112.47 C521.35 115.64 521.68 119.11 522.08 120.80 C522.48 122.49 522.87 122.68 523.27 122.58 C523.67 122.49 524.06 122.09 524.46 120.21 C524.86 118.32 525.25 114.75 525.65 111.28 C526.05 107.81 526.38 102.56 526.84 99.38 C527.30 96.21 527.99 95.02 528.39 92.25 C528.78 89.47 528.88 85.01 529.22 82.73 C529.56 80.45 529.95 79.46 530.41 78.56 C530.86 77.67 531.46 76.88 531.95 77.37 C532.45 77.87 532.95 81.84 533.38 81.54 C533.82 81.24 534.20 77.47 534.57 75.59 C534.94 73.71 535.23 70.04 535.59 70.24 C535.96 70.43 536.33 75.09 536.78 76.78 C537.24 78.46 537.84 78.76 538.33 80.35 C538.83 81.94 539.28 84.31 539.76 86.30 C540.23 88.28 540.75 90.96 541.19 92.25 C541.62 93.54 541.98 94.43 542.38 94.03 C542.77 93.63 543.17 91.45 543.57 89.87 C543.96 88.28 544.30 85.70 544.76 84.51 C545.21 83.32 545.79 82.33 546.30 82.73 C546.82 83.12 547.39 87.19 547.85 86.89 C548.30 86.59 548.60 83.12 549.04 80.94 C549.47 78.76 549.99 74.40 550.47 73.81 C550.94 73.21 551.46 76.18 551.89 77.37 C552.33 78.56 552.69 81.64 553.08 80.94 C553.48 80.25 553.88 76.68 554.27 73.21 C554.67 69.74 555.07 61.91 555.46 60.12 C555.86 58.34 556.20 60.32 556.65 62.50 C557.11 64.68 557.74 69.64 558.20 73.21 C558.66 76.78 558.99 80.55 559.39 83.92 C559.79 87.29 560.12 90.46 560.58 93.44 C561.03 96.41 561.63 99.48 562.13 101.76 C562.62 104.04 563.02 105.73 563.55 107.12 C564.09 108.51 564.74 109.40 565.34 110.09 C565.93 110.79 566.59 112.08 567.12 111.28 C567.66 110.49 568.05 107.91 568.55 105.33 C569.05 102.76 569.58 98.99 570.10 95.82 C570.61 92.64 571.15 89.67 571.64 86.30 C572.14 82.93 572.63 78.96 573.07 75.59 C573.51 72.22 573.86 70.04 574.26 66.07 C574.66 62.11 575.09 57.55 575.45 51.79 C575.81 46.04 576.05 33.55 576.40 31.57 C576.76 29.59 577.16 36.53 577.59 39.90 C578.03 43.27 578.54 48.03 579.02 51.79 C579.50 55.56 579.95 58.93 580.45 62.50 C580.94 66.07 581.54 70.24 581.99 73.21 C582.45 76.18 582.73 78.76 583.18 80.35 C583.64 81.94 584.23 80.75 584.73 82.73 C585.23 84.71 585.68 89.47 586.16 92.25 C586.63 95.02 587.09 97.20 587.59 99.38 C588.08 101.57 588.58 103.35 589.13 105.33 C589.69 107.32 590.38 110.89 590.92 111.28 C591.45 111.68 591.91 108.70 592.34 107.71 C592.78 106.72 593.08 105.53 593.53 105.33 C593.99 105.14 594.56 107.32 595.08 106.52 C595.60 105.73 596.13 102.26 596.63 100.57 C597.12 98.89 597.62 97.80 598.05 96.41 C598.49 95.02 598.85 94.53 599.24 92.25 C599.64 89.97 600.04 85.31 600.43 82.73 C600.83 80.15 601.23 77.87 601.62 76.78 C602.02 75.69 602.38 75.39 602.81 76.18 C603.25 76.98 603.75 79.16 604.24 81.54 C604.74 83.92 605.33 88.88 605.79 90.46 C606.24 92.05 606.37 93.54 606.98 91.06 C607.58 88.58 608.82 78.46 609.43 75.59 C610.03 72.71 610.16 73.21 610.62 73.81 C611.07 74.40 611.71 76.68 612.16 79.16 C612.62 81.64 612.96 85.50 613.35 88.68 C613.75 91.85 614.19 95.82 614.54 98.19 C614.90 100.57 615.16 103.55 615.50 102.95 C615.83 102.36 616.19 98.59 616.57 94.63 C616.94 90.66 617.30 83.62 617.76 79.16 C618.21 74.70 618.75 69.84 619.30 67.86 C619.86 65.87 620.49 67.16 621.09 67.26 C621.68 67.36 622.28 67.76 622.87 68.45 C623.47 69.15 624.12 70.73 624.66 71.43 C625.19 72.12 625.65 73.51 626.08 72.62 C626.52 71.72 626.92 68.65 627.27 66.07 C627.63 63.49 627.91 57.55 628.23 57.15 C628.54 56.75 628.78 61.61 629.18 63.69 C629.57 65.77 630.17 66.86 630.60 69.64 C631.04 72.42 631.40 77.18 631.79 80.35 C632.19 83.52 632.63 86.89 632.98 88.68 C633.34 90.46 633.50 91.02 633.94 91.06 C634.37 91.10 635.01 89.31 635.60 88.91 C636.20 88.52 636.95 88.32 637.50 88.68 C638.06 89.03 638.46 90.36 638.93 91.06 C639.41 91.75 639.86 93.24 640.36 92.84 C640.86 92.44 641.35 90.36 641.91 88.68 C642.46 86.99 643.16 84.91 643.69 82.73 C644.23 80.55 644.68 77.97 645.12 75.59 C645.56 73.21 645.91 70.08 646.31 68.45 C646.71 66.83 647.10 65.83 647.50 65.83 C647.89 65.83 648.29 66.83 648.69 68.45 C649.08 70.08 649.48 72.81 649.88 75.59 C650.27 78.37 650.61 81.74 651.07 85.11 C651.52 88.48 652.10 92.44 652.61 95.82 C653.13 99.19 653.67 102.66 654.16 105.33 C654.66 108.01 655.11 111.08 655.59 111.88 C656.06 112.67 656.52 110.49 657.02 110.09 C657.51 109.70 658.01 109.50 658.56 109.50 C659.12 109.50 659.75 110.59 660.35 110.09 C660.94 109.60 661.54 108.11 662.13 106.52 C662.73 104.94 663.32 102.36 663.92 100.57 C664.51 98.79 665.11 98.00 665.70 95.82 C666.30 93.63 666.89 90.26 667.49 87.49 C668.08 84.71 668.68 81.94 669.27 79.16 C669.86 76.38 670.46 73.61 671.05 70.83 C671.65 68.05 672.28 65.28 672.84 62.50 C673.39 59.73 673.85 56.06 674.39 54.17 C674.92 52.29 675.52 51.40 676.05 51.20 C676.59 51.00 677.08 51.70 677.60 52.98 C678.11 54.27 678.65 56.95 679.14 58.93 C679.64 60.92 680.33 63.89 680.57 64.88" fill="none" stroke="#4a7dc3" stroke-width="1.3" stroke-linejoin="round" stroke-linecap="round"/>
<path d="M390.20 162.10 H680.90 V273.20 H390.20 Z" fill="none" stroke="#231f20" stroke-width="1.8"/>
<path d="M386.20 162.10 H390.20" stroke="#231f20" stroke-width="1.8"/>
<text x="383.80" y="165.30" font-size="10.5" text-anchor="end" textLength="9.8" lengthAdjust="spacingAndGlyphs">10</text>
<path d="M386.20 189.87 H390.20" stroke="#231f20" stroke-width="1.8"/>
<text x="383.80" y="193.07" font-size="10.5" text-anchor="end" textLength="5.0" lengthAdjust="spacingAndGlyphs">5</text>
<path d="M386.20 217.65 H390.20" stroke="#231f20" stroke-width="1.8"/>
<text x="383.80" y="220.85" font-size="10.5" text-anchor="end" textLength="5.0" lengthAdjust="spacingAndGlyphs">0</text>
<path d="M386.20 245.42 H390.20" stroke="#231f20" stroke-width="1.8"/>
<text x="383.80" y="248.62" font-size="10.5" text-anchor="end" textLength="8.4" lengthAdjust="spacingAndGlyphs">-5</text>
<path d="M386.20 273.20 H390.20" stroke="#231f20" stroke-width="1.8"/>
<text x="383.80" y="276.40" font-size="10.5" text-anchor="end" textLength="13.6" lengthAdjust="spacingAndGlyphs">-10</text>
<path d="M390.20 217.65 H680.90" stroke="#231f20" stroke-width="1.8"/>
<path d="M390.20 273.20 V276.40" stroke="#231f20" stroke-width="1.8"/>
<text x="390.20" y="287.60" font-size="10.5" text-anchor="middle" textLength="4.6" lengthAdjust="spacingAndGlyphs">0</text>
<path d="M411.70 273.20 V276.40" stroke="#231f20" stroke-width="1.8"/>
<path d="M438.65 273.20 V276.40" stroke="#231f20" stroke-width="1.8"/>
<text x="438.25" y="287.60" font-size="10.5" text-anchor="middle" textLength="10.0" lengthAdjust="spacingAndGlyphs">10</text>
<path d="M460.15 273.20 V276.40" stroke="#231f20" stroke-width="1.8"/>
<path d="M487.10 273.20 V276.40" stroke="#231f20" stroke-width="1.8"/>
<text x="486.70" y="287.60" font-size="10.5" text-anchor="middle" textLength="10.0" lengthAdjust="spacingAndGlyphs">20</text>
<path d="M508.60 273.20 V276.40" stroke="#231f20" stroke-width="1.8"/>
<path d="M535.55 273.20 V276.40" stroke="#231f20" stroke-width="1.8"/>
<text x="535.15" y="287.60" font-size="10.5" text-anchor="middle" textLength="10.0" lengthAdjust="spacingAndGlyphs">30</text>
<path d="M557.05 273.20 V276.40" stroke="#231f20" stroke-width="1.8"/>
<path d="M584.00 273.20 V276.40" stroke="#231f20" stroke-width="1.8"/>
<text x="583.60" y="287.60" font-size="10.5" text-anchor="middle" textLength="10.0" lengthAdjust="spacingAndGlyphs">40</text>
<path d="M605.50 273.20 V276.40" stroke="#231f20" stroke-width="1.8"/>
<path d="M632.45 273.20 V276.40" stroke="#231f20" stroke-width="1.8"/>
<text x="632.05" y="287.60" font-size="10.5" text-anchor="middle" textLength="10.0" lengthAdjust="spacingAndGlyphs">50</text>
<path d="M653.95 273.20 V276.40" stroke="#231f20" stroke-width="1.8"/>
<path d="M680.90 273.20 V276.40" stroke="#231f20" stroke-width="1.8"/>
<text x="680.50" y="287.60" font-size="10.5" text-anchor="middle" textLength="10.0" lengthAdjust="spacingAndGlyphs">60</text>
<text transform="translate(364.60 220.85) rotate(-90)" x="0" y="0" font-size="14.5" text-anchor="middle" textLength="112.5" lengthAdjust="spacingAndGlyphs">Surface elevation (m)</text>
<text x="397.30" y="181.00" font-size="16.8" textLength="40.11" lengthAdjust="spacingAndGlyphs">Nu&#39;uuli</text>
<path d="M390.59 215.44 C392.48 215.46 398.03 215.52 401.90 215.56 C405.76 215.60 409.83 215.66 413.79 215.68 C417.76 215.70 421.73 215.68 425.69 215.68 C429.66 215.68 434.42 215.64 437.59 215.68 C440.76 215.72 442.74 215.92 444.73 215.92 C446.71 215.92 447.90 215.68 449.49 215.68 C451.07 215.68 452.66 215.98 454.24 215.92 C455.83 215.86 457.31 215.36 459.00 215.32 C460.69 215.28 462.69 215.58 464.38 215.68 C466.07 215.78 467.55 215.84 469.14 215.92 C470.72 216.00 472.31 216.16 473.90 216.16 C475.48 216.16 477.37 216.12 478.66 215.92 C479.94 215.72 480.64 215.56 481.63 214.97 C482.62 214.37 483.71 213.38 484.60 212.35 C485.50 211.32 486.19 210.17 486.98 208.78 C487.78 207.39 488.57 205.61 489.36 204.02 C490.16 202.43 490.95 200.65 491.74 199.26 C492.54 197.87 493.37 196.49 494.12 195.69 C494.88 194.90 495.57 194.46 496.26 194.50 C496.96 194.54 497.61 195.04 498.29 195.93 C498.96 196.82 499.61 198.41 500.31 199.86 C501.00 201.30 501.74 203.03 502.45 204.62 C503.16 206.20 503.90 207.79 504.59 209.37 C505.29 210.96 506.02 212.55 506.61 214.13 C507.21 215.72 507.67 217.50 508.16 218.89 C508.66 220.28 509.15 221.67 509.59 222.46 C510.02 223.25 510.34 223.95 510.78 223.65 C511.21 223.35 511.61 221.67 512.21 220.68 C512.80 219.69 513.59 218.40 514.35 217.70 C515.10 217.01 515.93 216.71 516.73 216.51 C517.52 216.31 518.31 216.45 519.11 216.51 C519.90 216.57 520.79 216.67 521.49 216.87 C522.18 217.07 522.71 217.62 523.27 217.70 C523.83 217.78 524.28 217.74 524.82 217.35 C525.35 216.95 525.95 215.92 526.48 215.32 C527.02 214.73 527.47 213.97 528.03 213.78 C528.58 213.58 529.22 213.88 529.81 214.13 C530.41 214.39 531.00 214.87 531.60 215.32 C532.19 215.78 532.79 216.27 533.38 216.87 C533.98 217.46 534.80 218.61 535.17 218.89 C535.54 219.17 535.33 219.23 535.59 218.54 C535.86 217.84 536.39 216.39 536.78 214.73 C537.18 213.06 537.58 208.84 537.97 208.54 C538.37 208.24 538.71 212.90 539.16 212.94 C539.62 212.98 540.21 208.98 540.71 208.78 C541.21 208.58 541.60 210.66 542.14 211.75 C542.67 212.84 543.29 214.07 543.92 215.32 C544.56 216.57 545.35 218.91 545.95 219.25 C546.54 219.59 546.98 218.46 547.49 217.35 C548.01 216.24 548.50 213.32 549.04 212.59 C549.57 211.85 550.11 212.59 550.70 212.94 C551.30 213.30 552.05 213.84 552.61 214.73 C553.16 215.62 553.50 217.01 554.04 218.30 C554.57 219.59 555.23 221.37 555.82 222.46 C556.41 223.55 556.91 224.25 557.60 224.84 C558.30 225.44 559.29 225.63 559.98 226.03 C560.68 226.43 561.17 226.88 561.77 227.22 C562.36 227.56 563.02 228.55 563.55 228.05 C564.09 227.56 564.48 225.67 564.98 224.25 C565.48 222.82 565.97 220.72 566.53 219.49 C567.08 218.26 567.78 217.27 568.31 216.87 C568.85 216.47 569.24 216.57 569.74 217.11 C570.24 217.64 570.77 219.39 571.29 220.08 C571.80 220.78 572.34 221.57 572.83 221.27 C573.33 220.97 573.82 220.38 574.26 218.30 C574.70 216.22 575.01 211.12 575.45 208.78 C575.89 206.44 576.38 205.41 576.88 204.26 C577.37 203.11 577.91 201.62 578.42 201.88 C578.94 202.14 579.44 204.46 579.97 205.81 C580.51 207.15 581.10 208.58 581.64 209.97 C582.17 211.36 582.63 212.78 583.18 214.13 C583.74 215.48 584.43 217.76 584.97 218.06 C585.50 218.36 585.90 217.66 586.40 215.92 C586.89 214.17 587.43 209.57 587.94 207.59 C588.46 205.61 588.95 204.77 589.49 204.02 C590.02 203.27 590.56 202.97 591.15 203.07 C591.75 203.17 592.40 204.26 593.06 204.62 C593.71 204.97 594.45 204.81 595.08 205.21 C595.71 205.61 596.27 206.20 596.86 206.99 C597.46 207.79 598.05 208.78 598.65 209.97 C599.24 211.16 599.84 212.35 600.43 214.13 C601.03 215.92 601.62 218.89 602.22 220.68 C602.81 222.46 603.35 223.69 604.00 224.84 C604.66 225.99 605.28 227.08 606.14 227.58 C607.01 228.07 608.38 228.37 609.19 227.82 C609.99 227.26 610.38 225.63 610.97 224.25 C611.57 222.86 612.22 220.68 612.76 219.49 C613.29 218.30 613.75 217.11 614.19 217.11 C614.62 217.11 614.92 218.50 615.38 219.49 C615.83 220.48 616.47 222.66 616.92 223.06 C617.38 223.45 617.72 223.45 618.11 221.87 C618.51 220.28 618.85 216.12 619.30 213.54 C619.76 210.96 620.31 208.09 620.85 206.40 C621.38 204.71 621.92 203.52 622.51 203.43 C623.11 203.33 623.82 204.81 624.42 205.81 C625.01 206.80 625.49 208.09 626.08 209.37 C626.68 210.66 627.39 212.55 627.99 213.54 C628.58 214.53 629.12 215.52 629.65 215.32 C630.19 215.12 630.64 213.44 631.20 212.35 C631.75 211.26 632.49 209.41 632.98 208.78 C633.48 208.14 633.68 208.14 634.17 208.54 C634.67 208.94 635.32 210.29 635.96 211.16 C636.59 212.03 637.33 213.48 637.98 213.78 C638.64 214.07 639.33 213.58 639.88 212.94 C640.44 212.31 640.84 210.86 641.31 209.97 C641.79 209.08 642.24 207.75 642.74 207.59 C643.24 207.43 643.77 208.22 644.29 209.02 C644.80 209.81 645.30 211.20 645.83 212.35 C646.37 213.50 646.90 214.63 647.50 215.92 C648.09 217.21 648.81 219.09 649.40 220.08 C650.00 221.07 650.47 221.37 651.07 221.87 C651.66 222.36 652.38 222.66 652.97 223.06 C653.57 223.45 654.10 224.44 654.64 224.25 C655.17 224.05 655.67 222.76 656.18 221.87 C656.70 220.97 657.19 219.78 657.73 218.89 C658.27 218.00 658.80 217.01 659.40 216.51 C659.99 216.02 660.64 216.06 661.30 215.92 C661.95 215.78 662.65 215.88 663.32 215.68 C664.00 215.48 664.69 215.28 665.34 214.73 C666.00 214.17 666.65 213.30 667.25 212.35 C667.84 211.40 668.38 209.31 668.91 209.02 C669.45 208.72 669.94 209.41 670.46 210.56 C670.98 211.71 671.51 214.23 672.01 215.92 C672.50 217.60 672.90 219.29 673.43 220.68 C673.97 222.06 674.62 223.35 675.22 224.25 C675.81 225.14 676.35 225.63 677.00 226.03 C677.66 226.43 678.79 226.53 679.14 226.63" fill="none" stroke="#4a7dc3" stroke-width="1.3" stroke-linejoin="round" stroke-linecap="round"/>
<path d="M390.20 294.00 H680.90 V405.20 H390.20 Z" fill="none" stroke="#231f20" stroke-width="1.8"/>
<path d="M386.20 294.00 H390.20" stroke="#231f20" stroke-width="1.8"/>
<text x="383.80" y="297.20" font-size="10.5" text-anchor="end" textLength="9.8" lengthAdjust="spacingAndGlyphs">10</text>
<path d="M386.20 321.80 H390.20" stroke="#231f20" stroke-width="1.8"/>
<text x="383.80" y="325.00" font-size="10.5" text-anchor="end" textLength="5.0" lengthAdjust="spacingAndGlyphs">5</text>
<path d="M386.20 349.60 H390.20" stroke="#231f20" stroke-width="1.8"/>
<text x="383.80" y="352.80" font-size="10.5" text-anchor="end" textLength="5.0" lengthAdjust="spacingAndGlyphs">0</text>
<path d="M386.20 377.40 H390.20" stroke="#231f20" stroke-width="1.8"/>
<text x="383.80" y="380.60" font-size="10.5" text-anchor="end" textLength="8.4" lengthAdjust="spacingAndGlyphs">-5</text>
<path d="M386.20 405.20 H390.20" stroke="#231f20" stroke-width="1.8"/>
<text x="383.80" y="408.40" font-size="10.5" text-anchor="end" textLength="13.6" lengthAdjust="spacingAndGlyphs">-10</text>
<path d="M390.20 349.60 H680.90" stroke="#231f20" stroke-width="1.8"/>
<path d="M390.20 405.20 V408.40" stroke="#231f20" stroke-width="1.8"/>
<text x="390.20" y="419.60" font-size="10.5" text-anchor="middle" textLength="4.6" lengthAdjust="spacingAndGlyphs">0</text>
<path d="M411.70 405.20 V408.40" stroke="#231f20" stroke-width="1.8"/>
<path d="M438.65 405.20 V408.40" stroke="#231f20" stroke-width="1.8"/>
<text x="438.25" y="419.60" font-size="10.5" text-anchor="middle" textLength="10.0" lengthAdjust="spacingAndGlyphs">10</text>
<path d="M460.15 405.20 V408.40" stroke="#231f20" stroke-width="1.8"/>
<path d="M487.10 405.20 V408.40" stroke="#231f20" stroke-width="1.8"/>
<text x="486.70" y="419.60" font-size="10.5" text-anchor="middle" textLength="10.0" lengthAdjust="spacingAndGlyphs">20</text>
<path d="M508.60 405.20 V408.40" stroke="#231f20" stroke-width="1.8"/>
<path d="M535.55 405.20 V408.40" stroke="#231f20" stroke-width="1.8"/>
<text x="535.15" y="419.60" font-size="10.5" text-anchor="middle" textLength="10.0" lengthAdjust="spacingAndGlyphs">30</text>
<path d="M557.05 405.20 V408.40" stroke="#231f20" stroke-width="1.8"/>
<path d="M584.00 405.20 V408.40" stroke="#231f20" stroke-width="1.8"/>
<text x="583.60" y="419.60" font-size="10.5" text-anchor="middle" textLength="10.0" lengthAdjust="spacingAndGlyphs">40</text>
<path d="M605.50 405.20 V408.40" stroke="#231f20" stroke-width="1.8"/>
<path d="M632.45 405.20 V408.40" stroke="#231f20" stroke-width="1.8"/>
<text x="632.05" y="419.60" font-size="10.5" text-anchor="middle" textLength="10.0" lengthAdjust="spacingAndGlyphs">50</text>
<path d="M653.95 405.20 V408.40" stroke="#231f20" stroke-width="1.8"/>
<path d="M680.90 405.20 V408.40" stroke="#231f20" stroke-width="1.8"/>
<text x="680.50" y="419.60" font-size="10.5" text-anchor="middle" textLength="10.0" lengthAdjust="spacingAndGlyphs">60</text>
<text transform="translate(364.60 352.80) rotate(-90)" x="0" y="0" font-size="14.5" text-anchor="middle" textLength="112.5" lengthAdjust="spacingAndGlyphs">Surface elevation (m)</text>
<text x="397.10" y="313.50" font-size="16.8" textLength="64.82" lengthAdjust="spacingAndGlyphs">Pago Pago</text>
<path d="M390.59 346.97 C392.48 346.97 398.03 346.97 401.90 346.97 C405.76 346.97 409.83 346.97 413.79 346.97 C417.76 346.97 421.73 346.93 425.69 346.97 C429.66 347.01 433.62 347.16 437.59 347.20 C441.55 347.24 445.52 347.22 449.49 347.20 C453.45 347.18 458.90 347.12 461.38 347.09 C463.86 347.05 462.69 346.93 464.38 346.97 C466.07 347.01 468.94 347.20 471.52 347.32 C474.10 347.44 477.07 347.68 479.85 347.68 C482.62 347.68 485.79 347.48 488.17 347.32 C490.55 347.16 492.14 346.79 494.12 346.73 C496.11 346.67 498.48 347.01 500.07 346.97 C501.66 346.93 502.65 346.77 503.64 346.49 C504.63 346.21 505.23 346.05 506.02 345.30 C506.81 344.55 507.70 343.22 508.40 341.97 C509.09 340.72 509.59 339.39 510.18 337.81 C510.78 336.22 511.37 334.43 511.97 332.45 C512.56 330.47 513.16 328.09 513.75 325.91 C514.35 323.73 514.88 321.45 515.54 319.36 C516.19 317.28 516.98 315.20 517.68 313.42 C518.37 311.63 519.07 309.95 519.70 308.66 C520.34 307.37 520.89 306.38 521.49 305.68 C522.08 304.99 522.68 304.55 523.27 304.49 C523.86 304.43 524.46 304.63 525.05 305.33 C525.65 306.02 526.24 307.31 526.84 308.66 C527.43 310.00 527.66 310.61 528.62 313.42 C529.58 316.22 531.47 322.27 532.60 325.50 C533.73 328.73 534.47 330.33 535.40 332.80 C536.33 335.27 537.37 337.68 538.20 340.30 C539.03 342.92 539.64 345.74 540.40 348.50 C541.16 351.26 542.05 354.56 542.73 356.84 C543.42 359.12 543.86 360.41 544.52 362.19 C545.17 363.98 545.97 366.32 546.66 367.55 C547.35 368.78 547.95 368.98 548.68 369.57 C549.42 370.17 550.27 370.66 551.06 371.12 C551.85 371.57 552.65 372.17 553.44 372.31 C554.23 372.45 555.17 372.64 555.82 371.95 C556.47 371.26 556.91 370.36 557.37 368.14 C557.82 365.92 558.16 361.80 558.56 358.63 C558.95 355.45 559.27 351.59 559.75 349.11 C560.22 346.63 560.94 344.45 561.41 343.75 C561.89 343.06 562.20 345.64 562.60 344.94 C563.00 344.25 563.33 340.28 563.79 339.59 C564.25 338.90 564.78 340.58 565.34 340.78 C565.89 340.98 566.53 340.68 567.12 340.78 C567.72 340.88 568.31 340.78 568.91 341.37 C569.50 341.97 570.10 343.30 570.69 344.35 C571.29 345.40 571.88 346.49 572.48 347.68 C573.07 348.87 573.67 350.26 574.26 351.49 C574.86 352.72 575.45 353.87 576.05 355.06 C576.64 356.25 577.18 357.44 577.83 358.63 C578.48 359.82 579.28 361.20 579.97 362.19 C580.67 363.19 581.32 363.94 581.99 364.57 C582.67 365.21 583.42 366.00 584.02 366.00 C584.61 366.00 585.11 365.80 585.56 364.57 C586.02 363.34 586.42 361.80 586.75 358.63 C587.09 355.45 587.29 348.71 587.59 345.54 C587.88 342.37 588.18 341.37 588.54 339.59 C588.89 337.81 589.23 336.22 589.73 334.83 C590.22 333.44 590.96 332.05 591.51 331.26 C592.07 330.47 592.56 330.77 593.06 330.07 C593.55 329.38 593.95 328.19 594.49 327.10 C595.02 326.01 595.68 324.72 596.27 323.53 C596.86 322.34 597.46 320.81 598.05 319.96 C598.65 319.11 599.09 318.71 599.84 318.41 C600.59 318.11 601.68 318.02 602.58 318.17 C603.47 318.33 604.36 318.97 605.19 319.36 C606.03 319.76 606.91 320.26 607.57 320.55 C608.24 320.85 608.52 320.85 609.19 321.15 C609.86 321.45 610.78 321.94 611.57 322.34 C612.36 322.74 613.16 323.03 613.95 323.53 C614.74 324.02 615.53 324.42 616.33 325.31 C617.12 326.21 617.91 327.49 618.71 328.88 C619.50 330.27 620.29 331.86 621.09 333.64 C621.88 335.43 622.67 337.41 623.47 339.59 C624.26 341.77 625.09 344.45 625.85 346.73 C626.60 349.01 627.29 351.19 627.99 353.27 C628.68 355.35 629.28 357.34 630.01 359.22 C630.74 361.10 631.60 362.99 632.39 364.57 C633.18 366.16 633.98 367.55 634.77 368.74 C635.56 369.93 636.35 370.92 637.15 371.71 C637.94 372.51 638.73 373.00 639.53 373.50 C640.32 373.99 641.11 374.39 641.91 374.69 C642.70 374.98 643.55 375.48 644.29 375.28 C645.02 375.08 645.77 374.69 646.31 373.50 C646.84 372.31 647.14 370.23 647.50 368.14 C647.86 366.06 648.09 362.89 648.45 361.01 C648.81 359.12 649.20 358.03 649.64 356.84 C650.08 355.65 650.63 354.86 651.07 353.87 C651.50 352.88 651.80 352.28 652.26 350.89 C652.71 349.50 653.29 347.42 653.80 345.54 C654.32 343.65 654.85 341.37 655.35 339.59 C655.85 337.81 656.34 335.92 656.78 334.83 C657.21 333.74 657.53 333.24 657.97 333.05 C658.40 332.85 658.90 333.84 659.40 333.64 C659.89 333.44 660.39 332.45 660.94 331.86 C661.50 331.26 662.13 330.33 662.73 330.07 C663.32 329.81 663.92 330.31 664.51 330.31 C665.11 330.31 665.76 329.81 666.30 330.07 C666.83 330.33 667.17 331.26 667.72 331.86 C668.28 332.45 668.97 333.24 669.63 333.64 C670.28 334.04 671.02 333.94 671.65 334.24 C672.28 334.53 672.84 335.23 673.43 335.43 C674.03 335.62 674.62 335.52 675.22 335.43 C675.81 335.33 676.31 334.89 677.00 334.83 C677.70 334.77 678.99 335.03 679.38 335.07" fill="none" stroke="#4a7dc3" stroke-width="1.3" stroke-linejoin="round" stroke-linecap="round"/>
<path d="M390.20 426.00 H680.90 V537.20 H390.20 Z" fill="none" stroke="#231f20" stroke-width="1.8"/>
<path d="M386.20 426.00 H390.20" stroke="#231f20" stroke-width="1.8"/>
<text x="383.80" y="429.20" font-size="10.5" text-anchor="end" textLength="9.8" lengthAdjust="spacingAndGlyphs">10</text>
<path d="M386.20 453.80 H390.20" stroke="#231f20" stroke-width="1.8"/>
<text x="383.80" y="457.00" font-size="10.5" text-anchor="end" textLength="5.0" lengthAdjust="spacingAndGlyphs">5</text>
<path d="M386.20 481.60 H390.20" stroke="#231f20" stroke-width="1.8"/>
<text x="383.80" y="484.80" font-size="10.5" text-anchor="end" textLength="5.0" lengthAdjust="spacingAndGlyphs">0</text>
<path d="M386.20 509.40 H390.20" stroke="#231f20" stroke-width="1.8"/>
<text x="383.80" y="512.60" font-size="10.5" text-anchor="end" textLength="8.4" lengthAdjust="spacingAndGlyphs">-5</text>
<path d="M386.20 537.20 H390.20" stroke="#231f20" stroke-width="1.8"/>
<text x="383.80" y="540.40" font-size="10.5" text-anchor="end" textLength="13.6" lengthAdjust="spacingAndGlyphs">-10</text>
<path d="M390.20 481.60 H680.90" stroke="#231f20" stroke-width="1.8"/>
<path d="M390.20 537.20 V540.40" stroke="#231f20" stroke-width="1.8"/>
<text x="390.20" y="551.60" font-size="10.5" text-anchor="middle" textLength="4.6" lengthAdjust="spacingAndGlyphs">0</text>
<path d="M411.70 537.20 V540.40" stroke="#231f20" stroke-width="1.8"/>
<path d="M438.65 537.20 V540.40" stroke="#231f20" stroke-width="1.8"/>
<text x="438.25" y="551.60" font-size="10.5" text-anchor="middle" textLength="10.0" lengthAdjust="spacingAndGlyphs">10</text>
<path d="M460.15 537.20 V540.40" stroke="#231f20" stroke-width="1.8"/>
<path d="M487.10 537.20 V540.40" stroke="#231f20" stroke-width="1.8"/>
<text x="486.70" y="551.60" font-size="10.5" text-anchor="middle" textLength="10.0" lengthAdjust="spacingAndGlyphs">20</text>
<path d="M508.60 537.20 V540.40" stroke="#231f20" stroke-width="1.8"/>
<path d="M535.55 537.20 V540.40" stroke="#231f20" stroke-width="1.8"/>
<text x="535.15" y="551.60" font-size="10.5" text-anchor="middle" textLength="10.0" lengthAdjust="spacingAndGlyphs">30</text>
<path d="M557.05 537.20 V540.40" stroke="#231f20" stroke-width="1.8"/>
<path d="M584.00 537.20 V540.40" stroke="#231f20" stroke-width="1.8"/>
<text x="583.60" y="551.60" font-size="10.5" text-anchor="middle" textLength="10.0" lengthAdjust="spacingAndGlyphs">40</text>
<path d="M605.50 537.20 V540.40" stroke="#231f20" stroke-width="1.8"/>
<path d="M632.45 537.20 V540.40" stroke="#231f20" stroke-width="1.8"/>
<text x="632.05" y="551.60" font-size="10.5" text-anchor="middle" textLength="10.0" lengthAdjust="spacingAndGlyphs">50</text>
<path d="M653.95 537.20 V540.40" stroke="#231f20" stroke-width="1.8"/>
<path d="M680.90 537.20 V540.40" stroke="#231f20" stroke-width="1.8"/>
<text x="680.50" y="551.60" font-size="10.5" text-anchor="middle" textLength="10.0" lengthAdjust="spacingAndGlyphs">60</text>
<text transform="translate(364.60 484.80) rotate(-90)" x="0" y="0" font-size="14.5" text-anchor="middle" textLength="112.5" lengthAdjust="spacingAndGlyphs">Surface elevation (m)</text>
<text x="397.90" y="445.50" font-size="16.8" textLength="39.96" lengthAdjust="spacingAndGlyphs">Aunu&#39;u</text>
<path d="M390.59 478.97 C392.48 478.97 398.03 478.97 401.90 478.97 C405.76 478.97 410.23 478.97 413.79 478.97 C417.36 478.97 420.93 479.01 423.31 478.97 C425.69 478.93 426.48 478.69 428.07 478.73 C429.66 478.77 431.24 479.20 432.83 479.20 C434.42 479.20 436.00 478.77 437.59 478.73 C439.17 478.69 440.76 478.93 442.35 478.97 C443.93 479.01 445.32 478.85 447.11 478.97 C448.89 479.09 451.47 479.72 453.05 479.68 C454.64 479.64 455.63 478.95 456.62 478.73 C457.62 478.51 458.21 478.33 459.00 478.37 C459.80 478.41 460.49 478.91 461.38 478.97 C462.28 479.03 463.38 478.67 464.38 478.73 C465.37 478.79 466.26 479.32 467.35 479.32 C468.44 479.32 469.73 478.73 470.92 478.73 C472.11 478.73 473.20 479.32 474.49 479.32 C475.78 479.32 477.17 478.79 478.66 478.73 C480.14 478.67 482.03 479.07 483.41 478.97 C484.80 478.87 485.83 478.53 486.98 478.13 C488.13 477.74 489.36 477.28 490.32 476.59 C491.27 475.89 491.96 475.00 492.69 473.97 C493.43 472.94 494.04 471.59 494.72 470.40 C495.39 469.21 496.05 467.78 496.74 466.83 C497.43 465.88 498.13 465.32 498.88 464.69 C499.63 464.05 500.47 463.42 501.26 463.02 C502.05 462.63 502.85 462.51 503.64 462.31 C504.43 462.11 505.27 461.68 506.02 461.83 C506.77 461.99 507.53 462.53 508.16 463.26 C508.80 464.00 509.23 465.05 509.83 466.24 C510.42 467.43 511.08 469.11 511.73 470.40 C512.38 471.69 513.08 472.74 513.75 473.97 C514.43 475.20 515.24 476.59 515.77 477.78 C516.31 478.97 516.57 479.86 516.96 481.11 C517.36 482.36 517.64 483.98 518.15 485.27 C518.67 486.56 519.40 487.79 520.06 488.84 C520.71 489.89 521.35 490.88 522.08 491.58 C522.81 492.27 523.73 492.53 524.46 493.01 C525.19 493.48 525.89 494.63 526.48 494.43 C527.08 494.23 527.51 492.95 528.03 491.82 C528.54 490.69 529.12 489.44 529.58 487.65 C530.03 485.87 530.33 483.09 530.77 481.11 C531.20 479.12 531.66 476.71 532.19 475.75 C532.73 474.80 533.41 475.30 533.98 475.40 C534.54 475.50 535.13 475.60 535.59 476.35 C536.06 477.10 536.39 477.94 536.78 479.92 C537.18 481.90 537.58 486.36 537.97 488.25 C538.37 490.13 538.77 491.42 539.16 491.22 C539.56 491.02 539.96 488.25 540.35 487.06 C540.75 485.87 541.09 484.28 541.54 484.08 C542.00 483.88 542.55 485.07 543.09 485.87 C543.63 486.66 544.16 487.95 544.76 488.84 C545.35 489.73 546.06 491.02 546.66 491.22 C547.25 491.42 547.79 491.12 548.32 490.03 C548.86 488.94 549.42 486.66 549.87 484.68 C550.33 482.69 550.66 479.42 551.06 478.13 C551.46 476.84 551.85 476.88 552.25 476.94 C552.65 477.00 553.04 478.49 553.44 478.49 C553.84 478.49 554.17 476.71 554.63 476.94 C555.09 477.18 555.68 479.12 556.18 479.92 C556.67 480.71 557.13 481.50 557.60 481.70 C558.08 481.90 558.60 480.41 559.03 481.11 C559.47 481.80 559.83 484.68 560.22 485.87 C560.62 487.06 561.02 488.84 561.41 488.25 C561.81 487.65 562.20 484.68 562.60 482.30 C563.00 479.92 563.33 475.95 563.79 473.97 C564.25 471.99 564.82 470.70 565.34 470.40 C565.85 470.10 566.39 471.39 566.88 472.18 C567.38 472.98 567.84 474.46 568.31 475.16 C568.79 475.85 569.30 475.56 569.74 476.35 C570.18 477.14 570.53 478.63 570.93 479.92 C571.33 481.21 571.72 484.08 572.12 484.08 C572.52 484.08 572.95 481.60 573.31 479.92 C573.67 478.23 573.90 475.06 574.26 473.97 C574.62 472.88 575.05 472.88 575.45 473.37 C575.85 473.87 576.24 476.94 576.64 476.94 C577.04 476.94 577.39 474.27 577.83 473.37 C578.27 472.48 578.76 472.09 579.26 471.59 C579.75 471.09 580.35 470.80 580.80 470.40 C581.26 470.00 581.60 469.21 581.99 469.21 C582.39 469.21 582.73 470.30 583.18 470.40 C583.64 470.50 584.27 469.41 584.73 469.81 C585.19 470.20 585.48 471.69 585.92 472.78 C586.36 473.87 586.91 474.96 587.35 476.35 C587.78 477.74 588.10 479.52 588.54 481.11 C588.97 482.69 589.47 485.03 589.96 485.87 C590.46 486.70 591.00 486.40 591.51 486.10 C592.03 485.81 592.56 485.11 593.06 484.08 C593.55 483.05 594.01 481.21 594.49 479.92 C594.96 478.63 595.42 477.24 595.91 476.35 C596.41 475.46 596.90 474.66 597.46 474.56 C598.02 474.46 598.71 475.06 599.24 475.75 C599.78 476.45 600.18 477.64 600.67 478.73 C601.17 479.82 601.70 481.21 602.22 482.30 C602.73 483.39 603.27 485.07 603.77 485.27 C604.26 485.47 604.76 484.48 605.19 483.49 C605.63 482.50 605.95 480.12 606.38 479.32 C606.82 478.53 607.38 478.79 607.81 478.73 C608.24 478.67 608.52 479.26 608.95 478.97 C609.38 478.67 609.90 477.94 610.38 476.94 C610.86 475.95 611.31 473.71 611.81 473.02 C612.30 472.32 612.84 472.22 613.35 472.78 C613.87 473.33 614.36 474.37 614.90 476.35 C615.44 478.33 616.03 482.93 616.57 484.68 C617.10 486.42 617.56 486.38 618.11 486.82 C618.67 487.25 619.30 486.96 619.90 487.29 C620.49 487.63 621.13 489.57 621.68 488.84 C622.24 488.11 622.73 484.38 623.23 482.89 C623.72 481.41 624.22 480.61 624.66 479.92 C625.09 479.22 625.41 478.43 625.85 478.73 C626.28 479.03 626.72 480.61 627.27 481.70 C627.83 482.79 628.62 483.78 629.18 485.27 C629.73 486.76 630.17 489.34 630.60 490.63 C631.04 491.91 631.40 493.20 631.79 493.01 C632.19 492.81 632.55 491.12 632.98 489.44 C633.42 487.75 633.92 484.52 634.41 482.89 C634.91 481.27 635.50 479.98 635.96 479.68 C636.41 479.38 636.75 480.37 637.15 481.11 C637.54 481.84 637.94 484.28 638.34 484.08 C638.73 483.88 639.13 481.60 639.53 479.92 C639.92 478.23 640.32 475.85 640.72 473.97 C641.11 472.09 641.51 469.84 641.91 468.62 C642.30 467.39 642.60 466.59 643.10 466.59 C643.59 466.59 644.35 468.18 644.88 468.62 C645.42 469.05 645.81 469.01 646.31 469.21 C646.80 469.41 647.34 470.10 647.86 469.81 C648.37 469.51 648.91 468.32 649.40 467.43 C649.90 466.53 650.35 465.15 650.83 464.45 C651.31 463.76 651.76 463.06 652.26 463.26 C652.75 463.46 653.29 464.65 653.80 465.64 C654.32 466.63 654.85 468.02 655.35 469.21 C655.85 470.40 656.24 471.95 656.78 472.78 C657.31 473.61 657.97 473.85 658.56 474.21 C659.16 474.56 659.75 474.72 660.35 474.92 C660.94 475.12 661.58 475.16 662.13 475.40 C662.69 475.63 663.14 475.99 663.68 476.35 C664.21 476.71 664.81 478.03 665.34 477.54 C665.88 477.04 666.34 474.27 666.89 473.37 C667.45 472.48 668.14 472.24 668.68 472.18 C669.21 472.13 669.61 472.32 670.10 473.02 C670.60 473.71 671.13 475.10 671.65 476.35 C672.17 477.60 672.70 478.93 673.20 480.51 C673.69 482.10 674.15 484.48 674.62 485.87 C675.10 487.25 675.46 487.85 676.05 488.84 C676.65 489.83 677.54 490.82 678.19 491.82 C678.85 492.81 679.48 493.84 679.98 494.79 C680.47 495.74 680.97 497.07 681.17 497.53" fill="none" stroke="#4a7dc3" stroke-width="1.3" stroke-linejoin="round" stroke-linecap="round"/>
<path d="M390.20 559.40 H680.90 V670.40 H390.20 Z" fill="none" stroke="#231f20" stroke-width="1.8"/>
<path d="M386.20 559.40 H390.20" stroke="#231f20" stroke-width="1.8"/>
<text x="383.80" y="562.60" font-size="10.5" text-anchor="end" textLength="9.8" lengthAdjust="spacingAndGlyphs">10</text>
<path d="M386.20 587.15 H390.20" stroke="#231f20" stroke-width="1.8"/>
<text x="383.80" y="590.35" font-size="10.5" text-anchor="end" textLength="5.0" lengthAdjust="spacingAndGlyphs">5</text>
<path d="M386.20 614.90 H390.20" stroke="#231f20" stroke-width="1.8"/>
<text x="383.80" y="618.10" font-size="10.5" text-anchor="end" textLength="5.0" lengthAdjust="spacingAndGlyphs">0</text>
<path d="M386.20 642.65 H390.20" stroke="#231f20" stroke-width="1.8"/>
<text x="383.80" y="645.85" font-size="10.5" text-anchor="end" textLength="8.4" lengthAdjust="spacingAndGlyphs">-5</text>
<path d="M386.20 670.40 H390.20" stroke="#231f20" stroke-width="1.8"/>
<text x="383.80" y="673.60" font-size="10.5" text-anchor="end" textLength="13.6" lengthAdjust="spacingAndGlyphs">-10</text>
<path d="M390.20 614.90 H680.90" stroke="#231f20" stroke-width="1.8"/>
<path d="M390.20 670.40 V673.60" stroke="#231f20" stroke-width="1.8"/>
<text x="390.20" y="684.80" font-size="10.5" text-anchor="middle" textLength="4.6" lengthAdjust="spacingAndGlyphs">0</text>
<path d="M411.70 670.40 V673.60" stroke="#231f20" stroke-width="1.8"/>
<path d="M438.65 670.40 V673.60" stroke="#231f20" stroke-width="1.8"/>
<text x="438.25" y="684.80" font-size="10.5" text-anchor="middle" textLength="10.0" lengthAdjust="spacingAndGlyphs">10</text>
<path d="M460.15 670.40 V673.60" stroke="#231f20" stroke-width="1.8"/>
<path d="M487.10 670.40 V673.60" stroke="#231f20" stroke-width="1.8"/>
<text x="486.70" y="684.80" font-size="10.5" text-anchor="middle" textLength="10.0" lengthAdjust="spacingAndGlyphs">20</text>
<path d="M508.60 670.40 V673.60" stroke="#231f20" stroke-width="1.8"/>
<path d="M535.55 670.40 V673.60" stroke="#231f20" stroke-width="1.8"/>
<text x="535.15" y="684.80" font-size="10.5" text-anchor="middle" textLength="10.0" lengthAdjust="spacingAndGlyphs">30</text>
<path d="M557.05 670.40 V673.60" stroke="#231f20" stroke-width="1.8"/>
<path d="M584.00 670.40 V673.60" stroke="#231f20" stroke-width="1.8"/>
<text x="583.60" y="684.80" font-size="10.5" text-anchor="middle" textLength="10.0" lengthAdjust="spacingAndGlyphs">40</text>
<path d="M605.50 670.40 V673.60" stroke="#231f20" stroke-width="1.8"/>
<path d="M632.45 670.40 V673.60" stroke="#231f20" stroke-width="1.8"/>
<text x="632.05" y="684.80" font-size="10.5" text-anchor="middle" textLength="10.0" lengthAdjust="spacingAndGlyphs">50</text>
<path d="M653.95 670.40 V673.60" stroke="#231f20" stroke-width="1.8"/>
<path d="M680.90 670.40 V673.60" stroke="#231f20" stroke-width="1.8"/>
<text x="680.50" y="684.80" font-size="10.5" text-anchor="middle" textLength="10.0" lengthAdjust="spacingAndGlyphs">60</text>
<text transform="translate(364.60 618.10) rotate(-90)" x="0" y="0" font-size="14.5" text-anchor="middle" textLength="112.5" lengthAdjust="spacingAndGlyphs">Surface elevation (m)</text>
<text x="397.50" y="578.50" font-size="16.8" textLength="20.80" lengthAdjust="spacingAndGlyphs">Ofu</text>
<path d="M390.59 612.68 C392.08 612.68 396.84 612.74 399.52 612.68 C402.19 612.62 404.28 612.32 406.66 612.32 C409.04 612.32 411.61 612.54 413.79 612.68 C415.98 612.82 417.96 613.12 419.74 613.16 C421.53 613.20 423.01 613.16 424.50 612.92 C425.99 612.68 427.38 611.83 428.67 611.73 C429.95 611.63 430.95 612.09 432.23 612.32 C433.52 612.56 434.91 613.10 436.40 613.16 C437.89 613.22 439.57 612.80 441.16 612.68 C442.74 612.56 444.73 612.24 445.92 612.44 C447.11 612.64 447.50 613.43 448.30 613.87 C449.09 614.31 449.78 615.22 450.68 615.06 C451.57 614.90 452.56 613.47 453.65 612.92 C454.74 612.36 455.93 612.03 457.22 611.73 C458.51 611.43 460.19 611.23 461.38 611.13 C462.58 611.03 463.38 610.94 464.38 611.13 C465.37 611.33 466.36 612.07 467.35 612.32 C468.35 612.58 469.34 612.34 470.33 612.68 C471.32 613.02 472.31 614.27 473.30 614.35 C474.29 614.42 475.19 613.43 476.28 613.16 C477.37 612.88 478.46 612.80 479.85 612.68 C481.23 612.56 483.02 612.64 484.60 612.44 C486.19 612.24 487.88 611.57 489.36 611.49 C490.85 611.41 492.14 611.69 493.53 611.97 C494.92 612.24 496.40 613.24 497.69 613.16 C498.98 613.08 500.27 611.63 501.26 611.49 C502.25 611.35 502.75 611.99 503.64 612.32 C504.53 612.66 505.42 613.26 506.61 613.51 C507.80 613.77 509.49 613.81 510.78 613.87 C512.07 613.93 513.16 613.93 514.35 613.87 C515.54 613.81 516.83 613.97 517.92 613.51 C519.01 613.06 519.90 611.87 520.89 611.13 C521.88 610.40 522.87 609.71 523.86 609.11 C524.86 608.52 525.95 608.16 526.84 607.56 C527.73 606.97 528.43 606.43 529.22 605.54 C530.01 604.65 530.90 603.46 531.60 602.21 C532.29 600.96 532.85 599.43 533.38 598.05 C533.92 596.66 534.48 594.48 534.81 593.88 C535.14 593.29 535.03 594.97 535.36 594.48 C535.69 593.98 536.25 591.84 536.78 590.91 C537.32 589.98 537.97 589.18 538.57 588.89 C539.16 588.59 539.76 588.69 540.35 589.12 C540.95 589.56 541.54 590.31 542.14 591.50 C542.73 592.69 543.37 594.48 543.92 596.26 C544.48 598.05 544.97 600.03 545.47 602.21 C545.97 604.39 546.42 607.17 546.90 609.35 C547.37 611.53 547.83 613.22 548.32 615.30 C548.82 617.38 549.32 620.29 549.87 621.84 C550.43 623.39 550.96 623.92 551.66 624.58 C552.35 625.23 553.34 625.37 554.04 625.77 C554.73 626.16 555.38 628.90 555.82 626.96 C556.26 625.01 556.39 618.63 556.65 614.11 C556.91 609.59 557.11 602.01 557.37 599.83 C557.62 597.65 557.86 601.62 558.20 601.02 C558.54 600.43 558.99 598.44 559.39 596.26 C559.79 594.08 560.24 590.21 560.58 587.93 C560.92 585.65 561.07 582.98 561.41 582.58 C561.75 582.18 562.20 583.87 562.60 585.55 C563.00 587.24 563.33 589.92 563.79 592.69 C564.25 595.47 564.88 599.14 565.34 602.21 C565.79 605.28 566.03 609.51 566.53 611.13 C567.02 612.76 567.78 611.37 568.31 611.97 C568.85 612.56 569.24 613.65 569.74 614.70 C570.24 615.75 570.77 617.08 571.29 618.27 C571.80 619.46 572.38 620.85 572.83 621.84 C573.29 622.83 573.69 626.70 574.02 624.22 C574.36 621.74 574.58 612.22 574.86 606.97 C575.13 601.71 575.35 596.36 575.69 592.69 C576.03 589.02 576.56 586.58 576.88 584.96 C577.20 583.33 577.20 582.54 577.59 582.94 C577.99 583.33 578.72 585.32 579.26 587.34 C579.79 589.36 580.29 592.59 580.80 595.07 C581.32 597.55 581.85 600.03 582.35 602.21 C582.85 604.39 583.38 606.47 583.78 608.16 C584.17 609.84 584.37 612.28 584.73 612.32 C585.09 612.36 585.48 608.79 585.92 608.40 C586.36 608.00 586.87 609.09 587.35 609.94 C587.82 610.80 588.28 612.03 588.77 613.51 C589.27 615.00 589.81 617.08 590.32 618.87 C590.84 620.65 591.33 623.03 591.87 624.22 C592.40 625.41 593.00 625.41 593.53 626.01 C594.07 626.60 594.53 627.16 595.08 627.79 C595.64 628.42 596.37 630.31 596.86 629.81 C597.36 629.32 597.70 627.63 598.05 624.82 C598.41 622.00 598.61 615.00 599.01 612.92 C599.40 610.84 600.00 612.92 600.43 612.32 C600.87 611.73 601.19 610.44 601.62 609.35 C602.06 608.26 602.62 607.17 603.05 605.78 C603.49 604.39 603.84 602.81 604.24 601.02 C604.64 599.24 605.03 596.46 605.43 595.07 C605.83 593.68 606.22 592.89 606.62 592.69 C607.02 592.49 607.52 593.68 607.81 593.88 C608.10 594.08 608.09 595.43 608.36 593.88 C608.63 592.34 609.05 585.00 609.43 584.60 C609.80 584.21 610.16 589.76 610.62 591.50 C611.07 593.25 611.65 593.09 612.16 595.07 C612.68 597.05 613.18 600.62 613.71 603.40 C614.25 606.18 614.84 608.95 615.38 611.73 C615.91 614.50 616.41 617.97 616.92 620.06 C617.44 622.14 618.01 623.82 618.47 624.22 C618.93 624.62 619.26 623.43 619.66 622.44 C620.06 621.44 620.41 618.57 620.85 618.27 C621.29 617.97 621.80 619.86 622.28 620.65 C622.75 621.44 623.27 622.18 623.70 623.03 C624.14 623.88 624.50 624.91 624.89 625.77 C625.29 626.62 625.73 629.30 626.08 628.15 C626.44 627.00 626.72 623.29 627.04 618.87 C627.35 614.44 627.59 604.49 627.99 601.62 C628.38 598.74 628.94 601.62 629.41 601.62 C629.89 601.62 630.35 602.11 630.84 601.62 C631.34 601.12 631.93 599.53 632.39 598.64 C632.85 597.75 633.12 595.67 633.58 596.26 C634.03 596.86 634.63 600.23 635.13 602.21 C635.62 604.19 636.08 606.37 636.55 608.16 C637.03 609.94 637.54 611.63 637.98 612.92 C638.42 614.21 638.71 615.59 639.17 615.89 C639.63 616.19 640.16 614.84 640.72 614.70 C641.27 614.56 641.91 614.76 642.50 615.06 C643.10 615.36 643.73 615.85 644.29 616.49 C644.84 617.12 645.34 618.77 645.83 618.87 C646.33 618.97 646.82 618.37 647.26 617.08 C647.70 615.79 648.05 612.66 648.45 611.13 C648.85 609.61 649.20 608.02 649.64 607.92 C650.08 607.82 650.57 609.31 651.07 610.54 C651.56 611.77 652.06 613.41 652.61 615.30 C653.17 617.18 653.80 620.25 654.40 621.84 C654.99 623.43 655.59 624.48 656.18 624.82 C656.78 625.15 657.43 624.16 657.97 623.86 C658.50 623.57 658.90 622.77 659.40 623.03 C659.89 623.29 660.39 624.52 660.94 625.41 C661.50 626.30 662.07 627.49 662.73 628.38 C663.38 629.28 664.31 631.56 664.87 630.76 C665.42 629.97 665.72 626.60 666.06 623.63 C666.39 620.65 666.49 615.30 666.89 612.92 C667.29 610.54 667.94 610.54 668.44 609.35 C668.93 608.16 669.39 607.56 669.86 605.78 C670.34 603.99 670.80 601.62 671.29 598.64 C671.79 595.67 672.32 590.61 672.84 587.93 C673.35 585.26 673.89 582.78 674.39 582.58 C674.88 582.38 675.34 585.36 675.81 586.74 C676.29 588.13 676.75 589.72 677.24 590.91 C677.74 592.10 678.27 592.30 678.79 593.88 C679.30 595.47 680.08 599.34 680.33 600.43" fill="none" stroke="#4a7dc3" stroke-width="1.3" stroke-linejoin="round" stroke-linecap="round"/>
<path d="M390.20 692.50 H680.90 V803.40 H390.20 Z" fill="none" stroke="#231f20" stroke-width="1.8"/>
<path d="M386.20 692.50 H390.20" stroke="#231f20" stroke-width="1.8"/>
<text x="383.80" y="695.70" font-size="10.5" text-anchor="end" textLength="9.8" lengthAdjust="spacingAndGlyphs">10</text>
<path d="M386.20 720.23 H390.20" stroke="#231f20" stroke-width="1.8"/>
<text x="383.80" y="723.43" font-size="10.5" text-anchor="end" textLength="5.0" lengthAdjust="spacingAndGlyphs">5</text>
<path d="M386.20 747.95 H390.20" stroke="#231f20" stroke-width="1.8"/>
<text x="383.80" y="751.15" font-size="10.5" text-anchor="end" textLength="5.0" lengthAdjust="spacingAndGlyphs">0</text>
<path d="M386.20 775.68 H390.20" stroke="#231f20" stroke-width="1.8"/>
<text x="383.80" y="778.88" font-size="10.5" text-anchor="end" textLength="8.4" lengthAdjust="spacingAndGlyphs">-5</text>
<path d="M386.20 803.40 H390.20" stroke="#231f20" stroke-width="1.8"/>
<text x="383.80" y="806.60" font-size="10.5" text-anchor="end" textLength="13.6" lengthAdjust="spacingAndGlyphs">-10</text>
<path d="M390.20 747.95 H680.90" stroke="#231f20" stroke-width="1.8"/>
<path d="M390.20 803.40 V806.60" stroke="#231f20" stroke-width="1.8"/>
<text x="390.20" y="817.80" font-size="10.5" text-anchor="middle" textLength="4.6" lengthAdjust="spacingAndGlyphs">0</text>
<path d="M411.70 803.40 V806.60" stroke="#231f20" stroke-width="1.8"/>
<path d="M438.65 803.40 V806.60" stroke="#231f20" stroke-width="1.8"/>
<text x="438.25" y="817.80" font-size="10.5" text-anchor="middle" textLength="10.0" lengthAdjust="spacingAndGlyphs">10</text>
<path d="M460.15 803.40 V806.60" stroke="#231f20" stroke-width="1.8"/>
<path d="M487.10 803.40 V806.60" stroke="#231f20" stroke-width="1.8"/>
<text x="486.70" y="817.80" font-size="10.5" text-anchor="middle" textLength="10.0" lengthAdjust="spacingAndGlyphs">20</text>
<path d="M508.60 803.40 V806.60" stroke="#231f20" stroke-width="1.8"/>
<path d="M535.55 803.40 V806.60" stroke="#231f20" stroke-width="1.8"/>
<text x="535.15" y="817.80" font-size="10.5" text-anchor="middle" textLength="10.0" lengthAdjust="spacingAndGlyphs">30</text>
<path d="M557.05 803.40 V806.60" stroke="#231f20" stroke-width="1.8"/>
<path d="M584.00 803.40 V806.60" stroke="#231f20" stroke-width="1.8"/>
<text x="583.60" y="817.80" font-size="10.5" text-anchor="middle" textLength="10.0" lengthAdjust="spacingAndGlyphs">40</text>
<path d="M605.50 803.40 V806.60" stroke="#231f20" stroke-width="1.8"/>
<path d="M632.45 803.40 V806.60" stroke="#231f20" stroke-width="1.8"/>
<text x="632.05" y="817.80" font-size="10.5" text-anchor="middle" textLength="10.0" lengthAdjust="spacingAndGlyphs">50</text>
<path d="M653.95 803.40 V806.60" stroke="#231f20" stroke-width="1.8"/>
<path d="M680.90 803.40 V806.60" stroke="#231f20" stroke-width="1.8"/>
<text x="680.50" y="817.80" font-size="10.5" text-anchor="middle" textLength="10.0" lengthAdjust="spacingAndGlyphs">60</text>
<text transform="translate(364.60 751.15) rotate(-90)" x="0" y="0" font-size="14.5" text-anchor="middle" textLength="112.5" lengthAdjust="spacingAndGlyphs">Surface elevation (m)</text>
<text x="397.70" y="709.50" font-size="16.8" textLength="46.97" lengthAdjust="spacingAndGlyphs">Olosega</text>
<path d="M390.59 745.68 C392.48 745.68 398.63 745.74 401.90 745.68 C405.17 745.62 407.85 745.20 410.23 745.32 C412.60 745.44 413.99 746.22 416.17 746.39 C418.35 746.57 421.33 746.57 423.31 746.39 C425.29 746.22 426.58 745.64 428.07 745.32 C429.56 745.01 430.85 744.43 432.23 744.49 C433.62 744.55 435.01 745.28 436.40 745.68 C437.79 746.08 439.08 746.63 440.56 746.87 C442.05 747.11 443.93 747.27 445.32 747.11 C446.71 746.95 447.60 746.31 448.89 745.92 C450.18 745.52 451.67 744.83 453.05 744.73 C454.44 744.63 455.83 745.20 457.22 745.32 C458.61 745.44 460.19 745.38 461.38 745.44 C462.58 745.50 463.09 745.60 464.38 745.68 C465.67 745.76 467.55 745.84 469.14 745.92 C470.72 746.00 472.31 746.06 473.90 746.16 C475.48 746.26 477.17 746.51 478.66 746.51 C480.14 746.51 481.33 746.35 482.82 746.16 C484.31 745.96 486.09 745.36 487.58 745.32 C489.07 745.28 490.45 745.86 491.74 745.92 C493.03 745.98 494.12 745.78 495.31 745.68 C496.50 745.58 497.89 745.24 498.88 745.32 C499.87 745.40 500.47 745.86 501.26 746.16 C502.05 746.45 502.75 747.15 503.64 747.11 C504.53 747.07 505.62 746.20 506.61 745.92 C507.61 745.64 508.70 745.40 509.59 745.44 C510.48 745.48 511.08 745.88 511.97 746.16 C512.86 746.43 513.95 747.15 514.94 747.11 C515.93 747.07 516.92 746.35 517.92 745.92 C518.91 745.48 519.90 744.77 520.89 744.49 C521.88 744.21 522.97 744.37 523.86 744.25 C524.76 744.13 525.45 744.39 526.24 743.78 C527.04 743.16 527.87 741.69 528.62 740.56 C529.38 739.43 530.13 738.28 530.77 736.99 C531.40 735.71 531.90 734.32 532.43 732.83 C532.97 731.34 533.49 729.46 533.98 728.07 C534.47 726.68 534.89 725.69 535.36 724.50 C535.82 723.31 536.25 722.08 536.78 720.93 C537.32 719.78 537.97 718.36 538.57 717.60 C539.16 716.85 539.80 716.45 540.35 716.41 C540.91 716.37 541.36 716.41 541.90 717.36 C542.44 718.32 543.03 720.54 543.57 722.12 C544.10 723.71 544.60 724.70 545.11 726.88 C545.63 729.06 546.16 732.04 546.66 735.21 C547.15 738.38 547.61 742.35 548.09 745.92 C548.56 749.49 549.02 753.45 549.51 756.63 C550.01 759.80 550.55 762.57 551.06 764.95 C551.58 767.33 552.07 769.55 552.61 770.90 C553.14 772.25 553.68 772.65 554.27 773.04 C554.87 773.44 555.62 773.34 556.18 773.28 C556.73 773.22 557.21 774.67 557.60 772.69 C558.00 770.70 558.26 766.04 558.56 761.38 C558.85 756.72 559.11 750.08 559.39 744.73 C559.67 739.37 559.92 733.62 560.22 729.26 C560.52 724.90 560.86 721.63 561.17 718.55 C561.49 715.48 561.73 711.81 562.13 710.82 C562.52 709.83 563.12 711.51 563.55 712.61 C563.99 713.70 564.31 715.48 564.74 717.36 C565.18 719.25 565.67 722.62 566.17 723.91 C566.67 725.20 567.26 723.21 567.72 725.10 C568.17 726.98 568.51 731.94 568.91 735.21 C569.30 738.48 569.70 741.75 570.10 744.73 C570.49 747.70 570.83 750.28 571.29 753.06 C571.74 755.83 572.34 759.01 572.83 761.38 C573.33 763.76 573.73 765.75 574.26 767.33 C574.80 768.92 575.55 770.70 576.05 770.90 C576.54 771.10 576.84 770.31 577.23 768.52 C577.63 766.74 578.09 763.57 578.42 760.19 C578.76 756.82 578.96 751.87 579.26 748.30 C579.55 744.73 579.85 740.46 580.21 738.78 C580.57 737.09 581.00 738.18 581.40 738.18 C581.80 738.18 582.19 737.49 582.59 738.78 C582.98 740.07 583.34 744.13 583.78 745.92 C584.21 747.70 584.77 749.09 585.21 749.49 C585.64 749.88 586.00 749.69 586.40 748.30 C586.79 746.91 587.19 742.45 587.59 741.16 C587.98 739.87 588.38 740.17 588.77 740.56 C589.17 740.96 589.57 742.25 589.96 743.54 C590.36 744.83 590.76 747.01 591.15 748.30 C591.55 749.59 591.89 750.48 592.34 751.27 C592.80 752.06 593.38 752.26 593.89 753.06 C594.41 753.85 594.94 755.20 595.44 756.03 C595.93 756.86 596.43 757.95 596.86 758.05 C597.30 758.15 597.66 757.66 598.05 756.63 C598.45 755.59 598.81 753.16 599.24 751.87 C599.68 750.58 600.18 749.59 600.67 748.89 C601.17 748.20 601.66 747.84 602.22 747.70 C602.77 747.56 603.47 747.86 604.00 748.06 C604.54 748.26 604.99 748.89 605.43 748.89 C605.87 748.89 606.13 748.85 606.62 748.06 C607.11 747.27 607.89 745.68 608.36 744.13 C608.82 742.59 608.99 740.27 609.43 738.78 C609.86 737.29 610.42 736.56 610.97 735.21 C611.53 733.86 612.22 730.79 612.76 730.69 C613.29 730.59 613.75 733.07 614.19 734.62 C614.62 736.16 614.98 739.31 615.38 739.97 C615.77 740.62 616.11 738.94 616.57 738.54 C617.02 738.14 617.60 737.35 618.11 737.59 C618.63 737.83 619.16 738.98 619.66 739.97 C620.15 740.96 620.61 742.15 621.09 743.54 C621.56 744.93 622.02 746.41 622.51 748.30 C623.01 750.18 623.55 752.86 624.06 754.84 C624.58 756.82 625.11 759.01 625.61 760.19 C626.10 761.38 626.60 762.38 627.04 761.98 C627.47 761.58 627.87 760.10 628.23 757.82 C628.58 755.54 628.88 751.47 629.18 748.30 C629.47 745.12 629.67 740.96 630.01 738.78 C630.35 736.60 630.86 736.50 631.20 735.21 C631.54 733.92 631.70 731.54 632.03 731.05 C632.37 730.55 632.83 732.69 633.22 732.24 C633.62 731.78 633.96 728.81 634.41 728.31 C634.87 727.81 635.40 729.00 635.96 729.26 C636.51 729.52 637.15 729.66 637.74 729.86 C638.34 730.05 639.03 729.76 639.53 730.45 C640.02 731.15 640.32 732.24 640.72 734.02 C641.11 735.81 641.45 738.68 641.91 741.16 C642.36 743.64 642.92 746.41 643.45 748.89 C643.99 751.37 644.58 753.85 645.12 756.03 C645.65 758.21 646.11 760.19 646.67 761.98 C647.22 763.76 647.91 765.75 648.45 766.74 C648.99 767.73 649.38 768.13 649.88 767.93 C650.37 767.73 650.97 766.84 651.42 765.55 C651.88 764.26 652.22 762.08 652.61 760.19 C653.01 758.31 653.35 755.83 653.80 754.25 C654.26 752.66 654.82 751.47 655.35 750.68 C655.89 749.88 656.42 749.98 657.02 749.49 C657.61 748.99 658.27 748.14 658.92 747.70 C659.57 747.27 660.27 747.05 660.94 746.87 C661.62 746.69 662.31 746.49 662.96 746.63 C663.62 746.77 664.27 747.42 664.87 747.70 C665.46 747.98 666.00 748.36 666.53 748.30 C667.07 748.24 667.56 748.14 668.08 747.35 C668.60 746.55 669.13 744.97 669.63 743.54 C670.12 742.11 670.58 740.37 671.05 738.78 C671.53 737.19 671.99 735.71 672.48 734.02 C672.98 732.34 673.51 730.09 674.03 728.67 C674.54 727.24 675.08 725.75 675.58 725.45 C676.07 725.16 676.57 725.95 677.00 726.88 C677.44 727.81 677.80 729.66 678.19 731.05 C678.59 732.43 679.18 734.52 679.38 735.21" fill="none" stroke="#4a7dc3" stroke-width="1.3" stroke-linejoin="round" stroke-linecap="round"/>
<path d="M390.20 827.30 H680.90 V938.30 H390.20 Z" fill="none" stroke="#231f20" stroke-width="1.8"/>
<path d="M386.20 827.30 H390.20" stroke="#231f20" stroke-width="1.8"/>
<text x="383.80" y="830.50" font-size="10.5" text-anchor="end" textLength="9.8" lengthAdjust="spacingAndGlyphs">10</text>
<path d="M386.20 855.05 H390.20" stroke="#231f20" stroke-width="1.8"/>
<text x="383.80" y="858.25" font-size="10.5" text-anchor="end" textLength="5.0" lengthAdjust="spacingAndGlyphs">5</text>
<path d="M386.20 882.80 H390.20" stroke="#231f20" stroke-width="1.8"/>
<text x="383.80" y="886.00" font-size="10.5" text-anchor="end" textLength="5.0" lengthAdjust="spacingAndGlyphs">0</text>
<path d="M386.20 910.55 H390.20" stroke="#231f20" stroke-width="1.8"/>
<text x="383.80" y="913.75" font-size="10.5" text-anchor="end" textLength="8.4" lengthAdjust="spacingAndGlyphs">-5</text>
<path d="M386.20 938.30 H390.20" stroke="#231f20" stroke-width="1.8"/>
<text x="383.80" y="941.50" font-size="10.5" text-anchor="end" textLength="13.6" lengthAdjust="spacingAndGlyphs">-10</text>
<path d="M390.20 882.80 H680.90" stroke="#231f20" stroke-width="1.8"/>
<path d="M390.20 938.30 V941.50" stroke="#231f20" stroke-width="1.8"/>
<text x="390.20" y="952.70" font-size="10.5" text-anchor="middle" textLength="4.6" lengthAdjust="spacingAndGlyphs">0</text>
<path d="M411.70 938.30 V941.50" stroke="#231f20" stroke-width="1.8"/>
<path d="M438.65 938.30 V941.50" stroke="#231f20" stroke-width="1.8"/>
<text x="438.25" y="952.70" font-size="10.5" text-anchor="middle" textLength="10.0" lengthAdjust="spacingAndGlyphs">10</text>
<path d="M460.15 938.30 V941.50" stroke="#231f20" stroke-width="1.8"/>
<path d="M487.10 938.30 V941.50" stroke="#231f20" stroke-width="1.8"/>
<text x="486.70" y="952.70" font-size="10.5" text-anchor="middle" textLength="10.0" lengthAdjust="spacingAndGlyphs">20</text>
<path d="M508.60 938.30 V941.50" stroke="#231f20" stroke-width="1.8"/>
<path d="M535.55 938.30 V941.50" stroke="#231f20" stroke-width="1.8"/>
<text x="535.15" y="952.70" font-size="10.5" text-anchor="middle" textLength="10.0" lengthAdjust="spacingAndGlyphs">30</text>
<path d="M557.05 938.30 V941.50" stroke="#231f20" stroke-width="1.8"/>
<path d="M584.00 938.30 V941.50" stroke="#231f20" stroke-width="1.8"/>
<text x="583.60" y="952.70" font-size="10.5" text-anchor="middle" textLength="10.0" lengthAdjust="spacingAndGlyphs">40</text>
<path d="M605.50 938.30 V941.50" stroke="#231f20" stroke-width="1.8"/>
<path d="M632.45 938.30 V941.50" stroke="#231f20" stroke-width="1.8"/>
<text x="632.05" y="952.70" font-size="10.5" text-anchor="middle" textLength="10.0" lengthAdjust="spacingAndGlyphs">50</text>
<path d="M653.95 938.30 V941.50" stroke="#231f20" stroke-width="1.8"/>
<path d="M680.90 938.30 V941.50" stroke="#231f20" stroke-width="1.8"/>
<text x="680.50" y="952.70" font-size="10.5" text-anchor="middle" textLength="10.0" lengthAdjust="spacingAndGlyphs">60</text>
<text transform="translate(364.60 886.00) rotate(-90)" x="0" y="0" font-size="14.5" text-anchor="middle" textLength="112.5" lengthAdjust="spacingAndGlyphs">Surface elevation (m)</text>
<text x="397.50" y="845.60" font-size="16.8" textLength="69.07" lengthAdjust="spacingAndGlyphs">Luma (Ta&#39;u)</text>
<path d="M390.59 880.32 C392.48 880.30 398.03 880.18 401.90 880.20 C405.76 880.22 409.83 880.48 413.79 880.44 C417.76 880.40 422.52 879.97 425.69 879.97 C428.86 879.97 430.85 880.52 432.83 880.44 C434.81 880.36 436.20 879.51 437.59 879.49 C438.98 879.47 439.97 880.03 441.16 880.32 C442.35 880.62 443.34 881.33 444.73 881.27 C446.11 881.22 447.90 880.10 449.49 879.97 C451.07 879.83 452.66 880.40 454.24 880.44 C455.83 880.48 457.31 880.28 459.00 880.20 C460.69 880.12 462.89 880.09 464.38 879.97 C465.87 879.85 466.96 879.43 467.95 879.49 C468.94 879.55 469.34 880.03 470.33 880.32 C471.32 880.62 472.41 881.33 473.90 881.27 C475.38 881.22 477.47 880.07 479.25 879.97 C481.04 879.87 482.72 880.60 484.60 880.68 C486.49 880.76 488.77 880.50 490.55 880.44 C492.34 880.38 493.73 880.44 495.31 880.32 C496.90 880.20 498.88 879.73 500.07 879.73 C501.26 879.73 501.56 880.05 502.45 880.32 C503.34 880.60 504.43 881.29 505.42 881.39 C506.42 881.49 507.35 881.20 508.40 880.92 C509.45 880.64 510.74 879.83 511.73 879.73 C512.72 879.63 513.32 880.05 514.35 880.32 C515.38 880.60 516.83 881.45 517.92 881.39 C519.01 881.33 519.90 880.40 520.89 879.97 C521.88 879.53 522.87 879.11 523.86 878.78 C524.86 878.44 525.95 878.48 526.84 877.94 C527.73 877.41 528.52 876.46 529.22 875.56 C529.91 874.67 530.41 873.68 531.00 872.59 C531.60 871.50 532.19 870.21 532.79 869.02 C533.38 867.83 534.14 866.24 534.57 865.45 C535.00 864.66 534.99 864.82 535.36 864.26 C535.73 863.71 536.21 862.68 536.78 862.12 C537.36 861.56 538.11 860.93 538.81 860.93 C539.50 860.93 540.29 861.37 540.95 862.12 C541.60 862.87 542.18 863.90 542.73 865.45 C543.29 867.00 543.78 869.02 544.28 871.40 C544.78 873.78 545.23 876.75 545.71 879.73 C546.18 882.70 546.64 886.07 547.14 889.25 C547.63 892.42 548.17 895.79 548.68 898.76 C549.20 901.74 549.63 904.67 550.23 907.09 C550.82 909.51 551.66 912.68 552.25 913.28 C552.85 913.87 553.34 912.88 553.80 910.66 C554.25 908.44 554.55 903.92 554.99 899.95 C555.42 895.99 555.94 891.43 556.41 886.87 C556.89 882.31 557.35 877.75 557.84 872.59 C558.34 867.43 558.93 860.30 559.39 855.93 C559.85 851.57 560.24 848.36 560.58 846.42 C560.92 844.47 561.07 844.08 561.41 844.27 C561.75 844.47 562.15 844.87 562.60 847.61 C563.06 850.34 563.69 856.53 564.15 860.69 C564.60 864.86 564.94 868.23 565.34 872.59 C565.73 876.95 566.13 882.11 566.53 886.87 C566.92 891.63 567.32 896.78 567.72 901.14 C568.11 905.51 568.57 910.30 568.91 913.04 C569.24 915.78 569.40 917.56 569.74 917.56 C570.08 917.56 570.47 916.17 570.93 913.04 C571.39 909.91 572.02 903.52 572.48 898.76 C572.93 894.01 573.27 889.44 573.67 884.49 C574.06 879.53 574.46 874.18 574.86 869.02 C575.25 863.86 575.71 857.32 576.05 853.55 C576.38 849.79 576.62 848.00 576.88 846.42 C577.14 844.83 577.27 843.64 577.59 844.04 C577.91 844.43 578.35 845.62 578.78 848.79 C579.22 851.97 579.73 858.31 580.21 863.07 C580.68 867.83 581.20 872.59 581.64 877.35 C582.07 882.11 582.43 886.47 582.83 891.63 C583.22 896.78 583.66 903.96 584.02 908.28 C584.37 912.60 584.61 916.77 584.97 917.56 C585.32 918.36 585.76 916.57 586.16 913.04 C586.55 909.51 586.91 902.14 587.35 896.38 C587.78 890.63 588.34 883.89 588.77 878.54 C589.21 873.18 589.57 868.62 589.96 864.26 C590.36 859.90 590.76 855.50 591.15 852.36 C591.55 849.23 591.99 846.46 592.34 845.46 C592.70 844.47 592.94 844.87 593.30 846.42 C593.65 847.96 594.09 851.17 594.49 854.74 C594.88 858.31 595.28 863.47 595.68 867.83 C596.07 872.19 596.43 876.16 596.86 880.92 C597.30 885.68 597.80 890.99 598.29 896.38 C598.79 901.78 599.38 911.69 599.84 913.28 C600.30 914.87 600.63 909.31 601.03 905.90 C601.43 902.49 601.76 896.19 602.22 892.82 C602.67 889.44 603.27 888.06 603.77 885.68 C604.26 883.30 604.76 880.42 605.19 878.54 C605.63 876.65 605.99 874.57 606.38 874.37 C606.78 874.18 607.06 875.07 607.57 877.35 C608.08 879.63 608.92 885.24 609.43 888.06 C609.94 890.87 610.22 894.04 610.62 894.24 C611.01 894.44 611.35 891.47 611.81 889.25 C612.26 887.03 612.80 883.50 613.35 880.92 C613.91 878.34 614.54 875.96 615.14 873.78 C615.73 871.60 616.37 869.02 616.92 867.83 C617.48 866.64 617.93 866.84 618.47 866.64 C619.00 866.44 619.60 866.24 620.14 866.64 C620.67 867.04 621.17 868.98 621.68 869.02 C622.20 869.06 622.73 866.58 623.23 866.88 C623.72 867.18 624.18 869.06 624.66 870.81 C625.13 872.55 625.63 874.87 626.08 877.35 C626.54 879.83 627.00 883.73 627.39 885.68 C627.79 887.62 628.03 889.01 628.46 889.01 C628.90 889.01 629.45 887.22 630.01 885.68 C630.56 884.13 631.26 881.51 631.79 879.73 C632.33 877.94 632.73 876.26 633.22 874.97 C633.72 873.68 634.21 872.79 634.77 871.99 C635.32 871.20 636.06 869.71 636.55 870.21 C637.05 870.71 637.35 872.79 637.74 874.97 C638.14 877.15 638.54 881.27 638.93 883.30 C639.33 885.32 639.69 886.81 640.12 887.10 C640.56 887.40 641.05 885.52 641.55 885.08 C642.05 884.65 642.64 884.49 643.10 884.49 C643.55 884.49 643.83 885.28 644.29 885.08 C644.74 884.88 645.30 883.79 645.83 883.30 C646.37 882.80 646.96 883.10 647.50 882.11 C648.03 881.12 648.49 878.34 649.05 877.35 C649.60 876.36 650.23 876.26 650.83 876.16 C651.42 876.06 652.06 876.16 652.61 876.75 C653.17 877.35 653.67 878.24 654.16 879.73 C654.66 881.22 655.11 883.69 655.59 885.68 C656.06 887.66 656.52 889.64 657.02 891.63 C657.51 893.61 658.05 897.08 658.56 897.57 C659.08 898.07 659.57 895.23 660.11 894.60 C660.64 893.97 661.24 894.56 661.77 893.77 C662.31 892.97 662.81 891.59 663.32 889.84 C663.84 888.10 664.37 885.58 664.87 883.30 C665.36 881.02 665.82 878.34 666.30 876.16 C666.77 873.98 667.23 871.80 667.72 870.21 C668.22 868.62 668.75 867.24 669.27 866.64 C669.79 866.05 670.32 865.95 670.82 866.64 C671.31 867.34 671.77 869.22 672.24 870.81 C672.72 872.39 673.18 874.37 673.67 876.16 C674.17 877.94 674.70 879.93 675.22 881.51 C675.73 883.10 676.27 885.08 676.77 885.68 C677.26 886.27 677.72 885.44 678.19 885.08 C678.67 884.73 679.22 883.83 679.62 883.54 C680.02 883.24 680.41 883.34 680.57 883.30" fill="none" stroke="#4a7dc3" stroke-width="1.3" stroke-linejoin="round" stroke-linecap="round"/>
<text x="183.55" y="970.8" font-size="13.8" text-anchor="middle" textLength="120.4" lengthAdjust="spacingAndGlyphs">Elapsed time (minutes)</text>
<text x="535.55" y="970.8" font-size="13.8" text-anchor="middle" textLength="120.4" lengthAdjust="spacingAndGlyphs">Elapsed time (minutes)</text>
</svg></body></html>
